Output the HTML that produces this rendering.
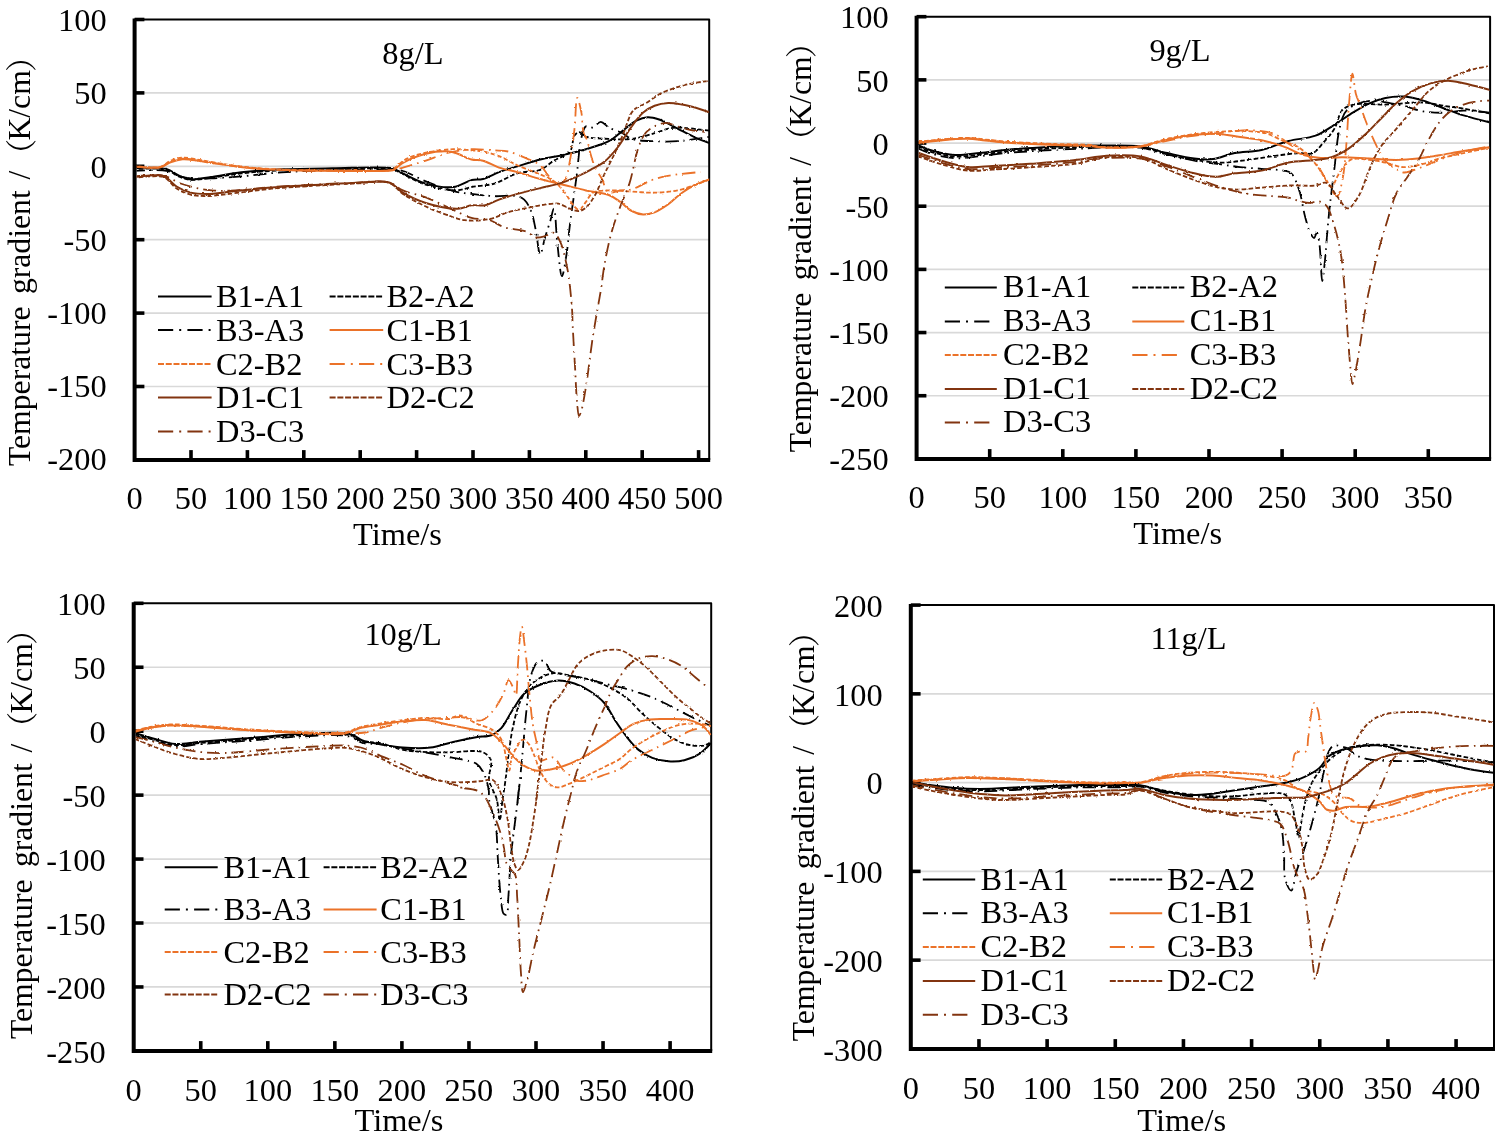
<!DOCTYPE html>
<html><head><meta charset="utf-8"><title>Temperature gradient</title>
<style>html,body{margin:0;padding:0;background:#fff}svg{display:block}text{font-family:"Liberation Serif","Noto Serif CJK SC",serif;fill:#000}</style>
</head><body>
<svg width="1500" height="1136" viewBox="0 0 1500 1136">
<rect width="1500" height="1136" fill="#fff"/>
<defs><clipPath id="ac"><rect x="136.6" y="19.5" width="572.6" height="440.4"/></clipPath><clipPath id="bc"><rect x="918.6" y="16.7" width="571.4999999999999" height="442.2"/></clipPath><clipPath id="cc"><rect x="135.7" y="603.3" width="575.5" height="447.60000000000014"/></clipPath><clipPath id="dc"><rect x="912.8" y="605.1" width="581.2" height="443.80000000000007"/></clipPath><filter id="rough" x="0" y="0" width="1500" height="1136" filterUnits="userSpaceOnUse"><feTurbulence type="fractalNoise" baseFrequency="0.35" numOctaves="2" seed="3" result="t"/><feDisplacementMap in="SourceGraphic" in2="t" scale="2.2" xChannelSelector="R" yChannelSelector="G"/></filter></defs>
<line x1="134.6" y1="92.90" x2="709.2" y2="92.90" stroke="#D9D9D9" stroke-width="1.7"/>
<line x1="134.6" y1="166.30" x2="709.2" y2="166.30" stroke="#D9D9D9" stroke-width="1.7"/>
<line x1="134.6" y1="239.70" x2="709.2" y2="239.70" stroke="#D9D9D9" stroke-width="1.7"/>
<line x1="134.6" y1="313.10" x2="709.2" y2="313.10" stroke="#D9D9D9" stroke-width="1.7"/>
<line x1="134.6" y1="386.50" x2="709.2" y2="386.50" stroke="#D9D9D9" stroke-width="1.7"/>
<path d="M134.6,19.5H709.2V459.9" fill="none" stroke="#000" stroke-width="2" stroke-linejoin="round"/>
<path d="M134.6,18.5V459.9H710.2" fill="none" stroke="#000" stroke-width="4" stroke-linejoin="miter"/>
<line x1="134.6" y1="19.50" x2="144.4" y2="19.50" stroke="#000" stroke-width="3.6"/>
<line x1="134.6" y1="92.90" x2="144.4" y2="92.90" stroke="#000" stroke-width="3.6"/>
<line x1="134.6" y1="166.30" x2="144.4" y2="166.30" stroke="#000" stroke-width="3.6"/>
<line x1="134.6" y1="239.70" x2="144.4" y2="239.70" stroke="#000" stroke-width="3.6"/>
<line x1="134.6" y1="313.10" x2="144.4" y2="313.10" stroke="#000" stroke-width="3.6"/>
<line x1="134.6" y1="386.50" x2="144.4" y2="386.50" stroke="#000" stroke-width="3.6"/>
<line x1="191.00" y1="459.9" x2="191.00" y2="450.09999999999997" stroke="#000" stroke-width="3.6"/>
<line x1="247.40" y1="459.9" x2="247.40" y2="450.09999999999997" stroke="#000" stroke-width="3.6"/>
<line x1="303.80" y1="459.9" x2="303.80" y2="450.09999999999997" stroke="#000" stroke-width="3.6"/>
<line x1="360.20" y1="459.9" x2="360.20" y2="450.09999999999997" stroke="#000" stroke-width="3.6"/>
<line x1="416.60" y1="459.9" x2="416.60" y2="450.09999999999997" stroke="#000" stroke-width="3.6"/>
<line x1="473.00" y1="459.9" x2="473.00" y2="450.09999999999997" stroke="#000" stroke-width="3.6"/>
<line x1="529.40" y1="459.9" x2="529.40" y2="450.09999999999997" stroke="#000" stroke-width="3.6"/>
<line x1="585.80" y1="459.9" x2="585.80" y2="450.09999999999997" stroke="#000" stroke-width="3.6"/>
<line x1="642.20" y1="459.9" x2="642.20" y2="450.09999999999997" stroke="#000" stroke-width="3.6"/>
<line x1="698.60" y1="459.9" x2="698.60" y2="450.09999999999997" stroke="#000" stroke-width="3.6"/>
<g clip-path="url(#ac)"><g filter="url(#rough)">
<path d="M132.0,168.3C132.0,168.3 158.1,166.7 166.4,168.9C171.7,170.3 174.5,173.6 178.6,175.4C182.6,177.1 186.1,179.0 190.7,179.4C196.6,180.0 203.6,178.0 211.0,177.0C220.1,175.8 230.5,173.6 241.3,172.3C253.8,170.9 267.6,170.0 281.8,169.3C297.7,168.6 314.8,168.5 332.4,168.3C351.7,168.1 384.1,166.1 393.2,168.3C395.9,169.0 395.9,169.8 398.3,171.0C403.8,173.7 416.4,180.9 425.8,183.6C434.7,186.1 445.1,188.0 453.2,187.0C460.1,186.2 466.1,181.4 471.5,180.1C475.7,179.2 478.9,180.0 483.0,179.0C488.0,177.7 493.4,174.2 499.0,172.1C504.8,170.0 510.9,168.4 517.3,166.4C524.5,164.2 532.5,161.5 540.2,159.5C547.8,157.7 555.5,156.7 563.1,155.0C570.7,153.2 578.4,151.5 585.9,149.2C593.6,146.9 602.4,144.7 608.8,141.2C614.3,138.3 618.0,134.4 622.6,130.9C627.1,127.5 631.7,122.9 636.3,120.6C640.1,118.7 643.9,117.4 647.7,117.2C651.5,117.0 655.0,118.1 659.2,119.5C664.7,121.4 671.4,125.6 677.5,128.6C683.6,131.7 689.9,135.2 695.8,137.8C700.9,140.1 710.7,143.5 710.7,143.5" fill="none" stroke="#000000" stroke-width="2.0" stroke-linejoin="round"/>
<path d="M132.0,169.3C132.0,169.3 158.1,167.5 166.4,169.7C171.7,171.1 174.4,174.7 178.6,176.4C182.5,178.0 186.1,179.4 190.7,179.8C196.6,180.4 203.6,178.7 211.0,177.8C220.1,176.7 230.5,174.6 241.3,173.4C253.8,172.0 267.6,171.0 281.8,170.3C297.7,169.6 314.8,169.5 332.4,169.3C351.7,169.1 384.1,167.3 393.2,169.3C395.9,169.9 395.9,170.6 398.3,171.7C403.8,174.3 416.2,181.6 425.8,184.7C435.3,187.8 447.1,190.5 455.5,190.4C461.7,190.4 465.7,188.1 471.5,187.0C478.5,185.7 486.9,185.8 494.4,183.6C502.2,181.3 509.5,175.6 517.3,173.3C524.8,171.1 533.8,172.3 540.2,169.8C545.6,167.7 549.1,163.7 553.9,160.7C559.0,157.5 566.5,155.9 569.9,151.5C573.2,147.4 572.3,138.7 574.5,135.5C575.8,133.6 577.4,132.1 579.1,132.1C581.1,132.0 582.8,135.5 585.9,136.7C591.2,138.5 601.2,138.6 608.8,138.9C616.5,139.3 624.1,139.9 631.7,138.9C639.4,138.0 648.0,135.2 654.6,133.2C659.8,131.7 664.2,129.6 668.3,128.6C671.6,127.9 673.5,127.5 677.5,127.5C685.1,127.4 710.7,130.9 710.7,130.9" fill="none" stroke="#000000" stroke-width="1.8" stroke-linejoin="round" stroke-dasharray="4.6 2.2"/>
<path d="M132.0,170.9C132.0,170.9 158.0,169.3 166.4,170.9C171.6,171.9 174.5,174.5 178.6,175.8C182.6,177.0 186.1,177.9 190.7,178.4C196.6,179.0 203.5,178.7 211.0,178.4C220.1,178.1 230.5,177.3 241.3,176.4C253.9,175.4 267.6,173.3 281.8,172.3C297.7,171.2 314.8,170.8 332.4,170.3C351.7,169.8 381.6,169.0 393.2,169.7C397.8,170.0 399.1,169.9 402.9,171.0C409.0,172.7 417.6,178.0 425.8,181.3C435.0,184.9 447.0,189.5 455.5,191.6C461.6,193.1 465.7,193.2 471.5,193.9C478.5,194.7 486.8,195.8 494.4,196.2C502.0,196.5 512.0,194.9 517.3,196.2C520.4,196.9 522.1,197.7 524.2,199.6C526.9,202.1 529.2,206.6 531.0,211.0C533.2,216.3 534.2,222.7 535.6,229.3C537.3,237.0 538.5,254.4 540.2,254.5C541.6,254.6 543.1,244.0 544.8,238.5C546.5,232.6 548.8,225.6 550.5,220.2C551.8,215.9 552.9,208.6 553.9,208.7C555.6,208.9 556.0,231.7 557.3,243.1C558.7,254.2 560.2,276.2 561.9,276.2C563.3,276.3 565.2,262.4 566.5,254.5C568.0,245.4 568.5,236.0 569.9,224.8C571.8,210.2 574.8,189.9 576.8,174.4C578.5,161.2 579.1,146.5 581.4,137.8C582.7,132.8 583.6,127.7 585.9,126.4C587.7,125.3 590.5,128.0 592.8,127.5C595.5,126.9 598.2,121.8 600.8,121.8C603.5,121.8 605.7,125.8 608.8,127.5C612.7,129.7 618.5,131.1 622.6,133.2C626.0,135.0 627.8,137.6 631.7,138.9C637.5,140.9 647.0,140.9 654.6,141.2C662.2,141.6 670.3,141.7 677.5,141.2C683.9,140.8 690.0,139.8 695.8,138.9C701.0,138.2 710.7,136.7 710.7,136.7" fill="none" stroke="#000000" stroke-width="1.8" stroke-linejoin="round" stroke-dasharray="13 5 1.6 5"/>
<path d="M132.0,166.3C132.0,166.3 153.4,168.8 160.4,167.3C164.7,166.3 166.9,163.6 170.5,162.2C174.3,160.8 178.1,159.5 182.6,159.2C188.1,158.8 194.6,160.4 200.9,161.2C207.4,162.1 213.7,163.2 221.1,164.3C230.2,165.5 240.6,167.3 251.5,168.3C264.0,169.4 277.1,169.9 291.9,170.3C310.1,170.9 334.7,170.9 352.7,170.9C367.0,170.9 385.9,171.2 391.1,170.5C392.5,170.3 392.7,170.4 393.7,169.8C395.9,168.8 399.0,165.2 402.9,163.0C408.6,159.7 418.0,155.7 425.8,153.8C433.3,152.0 442.8,151.1 448.6,151.5C452.4,151.8 454.5,152.7 457.8,153.8C462.0,155.2 467.1,158.4 471.5,159.5C475.4,160.5 478.9,159.6 483.0,160.7C488.0,162.0 493.4,165.7 499.0,167.6C504.8,169.5 510.9,170.4 517.3,172.1C524.5,174.1 532.5,176.9 540.2,179.0C547.8,181.1 555.4,182.8 563.1,184.7C570.7,186.6 578.3,188.7 585.9,190.4C593.6,192.1 602.7,192.6 608.8,195.0C613.5,196.8 616.5,199.3 620.3,201.9C624.2,204.6 627.7,208.9 631.7,211.0C635.4,212.9 639.3,214.3 643.2,214.5C646.9,214.6 650.7,213.6 654.6,212.2C659.1,210.5 663.9,207.3 668.3,204.2C673.0,200.9 677.3,196.0 682.1,192.7C686.5,189.6 691.0,187.0 695.8,184.7C700.6,182.4 710.7,179.0 710.7,179.0" fill="none" stroke="#EB7229" stroke-width="2.0" stroke-linejoin="round"/>
<path d="M132.0,165.7C132.0,165.7 153.5,168.6 160.4,166.9C164.8,165.8 166.8,162.4 170.5,160.8C174.2,159.2 178.1,157.8 182.6,157.6C188.1,157.3 194.6,159.2 200.9,160.2C207.4,161.2 213.7,162.5 221.1,163.6C230.2,165.0 240.6,166.7 251.5,167.7C264.0,168.9 277.1,169.4 291.9,169.9C310.1,170.5 334.7,170.5 352.7,170.5C367.0,170.5 385.9,171.5 391.1,170.1C392.6,169.7 392.6,169.4 393.7,168.7C396.5,166.9 402.3,161.0 407.5,158.4C412.9,155.6 419.0,154.2 425.8,152.7C433.9,150.9 445.0,149.5 453.2,149.2C459.9,149.0 466.1,150.0 471.5,150.4C475.8,150.7 478.9,150.7 483.0,151.5C487.9,152.5 493.6,154.0 499.0,156.1C505.0,158.4 510.8,162.3 517.3,165.3C524.4,168.5 533.6,171.5 540.2,174.4C545.4,176.8 550.0,178.5 553.9,181.3C557.5,183.9 560.0,186.8 563.1,190.4C566.9,194.9 571.3,203.2 574.5,206.5C576.2,208.2 577.5,210.1 579.1,209.9C581.2,209.6 583.7,204.7 585.9,201.9C588.3,199.0 589.5,194.7 592.8,192.7C596.7,190.4 603.0,190.7 608.8,190.4C615.8,190.1 624.1,191.2 631.7,191.6C639.3,192.0 647.0,192.9 654.6,192.7C662.2,192.5 670.3,191.9 677.5,190.4C684.0,189.1 690.0,186.7 695.8,184.7C701.0,182.9 710.7,179.0 710.7,179.0" fill="none" stroke="#EB7229" stroke-width="1.8" stroke-linejoin="round" stroke-dasharray="4.6 2.2"/>
<path d="M132.0,166.1C132.0,166.1 153.5,168.7 160.4,167.1C164.8,166.1 166.9,163.0 170.5,161.6C174.3,160.2 178.1,158.9 182.6,158.6C188.1,158.2 194.6,159.9 200.9,160.8C207.4,161.7 213.7,163.0 221.1,164.0C230.2,165.4 240.6,167.1 251.5,168.1C264.0,169.2 277.1,169.7 291.9,170.1C310.1,170.7 334.7,170.7 352.7,170.7C367.0,170.7 382.0,171.4 391.1,170.3C396.2,169.7 398.3,168.8 402.9,167.6C409.3,165.8 418.2,163.2 425.8,160.7C433.4,158.2 440.9,154.6 448.6,152.7C456.2,150.8 463.9,149.6 471.5,149.2C479.1,148.9 487.8,149.9 494.4,150.4C499.6,150.7 503.3,150.4 508.1,151.5C513.9,152.8 520.8,156.0 526.5,158.4C531.4,160.6 536.3,162.2 540.2,165.3C543.9,168.3 546.1,173.4 549.3,176.7C552.3,179.8 555.6,184.7 558.5,184.7C560.9,184.7 563.6,181.8 565.4,179.0C567.9,174.9 568.6,167.7 569.9,160.7C571.7,151.5 573.3,139.2 574.5,128.6C575.7,118.3 575.7,97.9 577.3,97.8C578.3,97.7 580.3,107.2 581.4,112.6C582.6,118.9 582.2,128.3 583.7,133.2C584.5,136.2 586.1,137.3 587.1,140.1C588.5,143.8 589.2,149.3 590.5,153.8C591.9,158.4 593.1,163.3 595.1,167.6C597.0,171.6 600.2,175.3 602.0,179.0C603.5,182.1 604.1,185.7 605.4,188.1C606.4,190.0 607.1,192.0 608.8,192.7C611.4,193.7 616.4,191.0 620.3,190.4C624.1,189.9 627.4,190.5 631.7,189.3C638.2,187.6 646.8,181.5 654.6,179.0C662.1,176.6 669.8,175.6 677.5,174.4C685.1,173.3 700.4,172.1 700.4,172.1" fill="none" stroke="#EB7229" stroke-width="1.8" stroke-linejoin="round" stroke-dasharray="13 5 1.6 5"/>
<path d="M132.0,177.4C132.0,177.4 144.5,175.5 150.2,175.4C155.3,175.3 160.1,174.7 164.4,176.4C168.9,178.2 172.1,183.8 176.6,186.5C180.9,189.2 185.7,191.3 190.7,192.6C195.8,193.9 201.0,194.0 206.9,194.0C214.2,194.0 222.1,192.5 231.2,191.6C243.0,190.4 258.2,188.6 271.7,187.5C285.2,186.5 298.7,185.8 312.2,185.1C325.7,184.4 339.5,183.5 352.7,183.1C365.1,182.7 380.2,179.6 389.1,182.5C395.2,184.4 397.5,189.6 402.9,192.7C409.4,196.5 417.3,200.4 425.8,203.0C435.4,206.0 449.4,209.0 457.8,208.7C463.4,208.6 466.9,205.9 471.5,205.3C476.1,204.7 480.8,206.2 485.3,205.3C489.9,204.4 494.0,201.4 499.0,199.6C504.6,197.5 510.8,195.7 517.3,193.9C524.5,191.9 532.6,190.1 540.2,188.1C547.8,186.2 556.5,184.6 563.1,182.4C568.3,180.7 572.3,178.8 576.8,176.7C581.4,174.6 586.0,172.3 590.5,169.8C595.1,167.3 599.9,165.3 604.3,161.8C609.1,157.9 613.6,152.5 618.0,147.0C622.8,140.8 627.2,132.4 631.7,126.4C635.6,121.2 639.0,116.2 643.2,112.6C646.7,109.6 650.5,107.4 654.6,105.8C658.8,104.1 663.7,103.2 668.3,103.0C672.9,102.8 677.2,103.7 682.1,104.6C687.8,105.7 695.2,107.7 700.4,109.2C704.3,110.3 710.7,112.6 710.7,112.6" fill="none" stroke="#823410" stroke-width="2.0" stroke-linejoin="round"/>
<path d="M132.0,178.4C132.0,178.4 144.5,176.5 150.2,176.4C155.3,176.3 160.2,175.6 164.4,177.4C169.0,179.4 172.1,185.7 176.6,188.5C180.9,191.3 185.7,193.4 190.7,194.6C195.8,195.9 201.0,196.1 206.9,196.0C214.2,196.0 222.1,194.6 231.2,193.6C243.0,192.3 258.2,190.0 271.7,188.7C285.2,187.5 298.7,186.8 312.2,185.9C325.7,185.1 339.5,184.2 352.7,183.7C365.1,183.2 380.2,179.9 389.1,182.9C395.3,185.0 397.5,190.3 402.9,193.9C409.4,198.2 418.0,202.8 425.8,206.5C433.3,210.0 441.6,213.2 448.6,215.6C454.4,217.6 458.7,219.5 464.7,220.2C472.1,221.0 482.2,220.6 489.8,219.0C496.5,217.7 501.8,214.1 508.1,212.2C514.7,210.2 522.3,208.9 528.7,207.6C534.4,206.4 539.6,205.3 544.8,204.6C549.5,204.0 554.2,203.0 558.5,203.7C562.6,204.4 566.3,207.5 569.9,208.7C573.1,209.8 576.3,211.3 579.1,211.0C581.6,210.8 583.7,209.5 585.9,207.6C589.1,204.9 592.3,199.9 595.1,195.0C598.5,189.1 601.1,181.0 604.3,174.4C607.2,168.1 610.4,162.4 613.4,156.1C616.5,149.5 619.6,142.6 622.6,135.5C625.7,128.1 628.7,117.2 631.7,112.6C633.3,110.3 634.4,109.4 636.3,108.1C638.7,106.3 642.2,105.4 645.4,103.5C649.6,101.1 654.5,96.8 659.2,94.3C663.6,91.9 668.1,90.3 672.9,88.6C678.0,86.8 683.1,85.3 688.9,84.0C695.6,82.6 710.7,80.6 710.7,80.6" fill="none" stroke="#823410" stroke-width="1.8" stroke-linejoin="round" stroke-dasharray="4.6 2.2"/>
<path d="M132.0,177.0C132.0,177.0 144.5,175.1 150.2,175.0C155.3,174.8 159.7,174.6 164.4,175.8C169.8,177.2 175.0,181.4 180.6,183.5C186.4,185.6 192.9,187.4 198.8,188.5C204.3,189.6 209.6,190.2 215.0,190.6C220.4,190.9 224.6,190.8 231.2,190.6C241.7,190.1 258.2,188.1 271.7,187.1C285.2,186.1 298.7,185.4 312.2,184.7C325.7,184.0 339.5,183.3 352.7,182.9C365.1,182.5 380.1,179.9 389.1,182.3C395.1,183.9 397.5,188.1 402.9,190.4C409.4,193.3 418.2,194.5 425.8,197.3C433.5,200.2 441.0,204.2 448.6,207.6C456.3,211.0 464.2,215.8 471.5,217.9C477.8,219.7 484.3,218.5 489.8,220.2C494.9,221.7 498.3,225.2 503.6,227.0C510.1,229.3 520.7,229.3 526.5,231.6C530.4,233.2 532.4,236.6 535.6,237.3C538.5,238.0 541.8,236.9 544.8,236.2C547.9,235.4 551.3,231.9 553.9,232.8C556.8,233.7 558.9,239.1 560.8,243.1C562.9,247.7 564.0,253.5 565.4,259.1C566.7,265.0 567.8,270.3 568.8,277.4C570.2,287.0 571.7,303.7 572.2,311.7C572.5,316.0 572.3,317.1 572.5,321.5C572.9,331.0 574.2,352.4 575.0,366.5C575.7,378.9 576.1,392.4 577.0,401.5C577.6,407.4 578.0,415.8 579.0,416.0C579.6,416.1 580.3,414.0 581.0,412.0C582.6,407.2 584.4,396.3 586.0,386.5C588.2,373.1 590.4,353.0 592.5,339.0C594.2,327.8 596.0,318.0 597.5,309.0C598.8,301.7 599.9,295.9 601.0,289.0C602.2,281.6 602.8,274.2 604.3,265.9C606.0,256.1 608.3,244.1 611.1,233.9C613.7,224.3 617.1,215.1 620.3,206.5C623.2,198.4 626.6,192.2 629.4,183.6C632.9,172.9 635.2,156.1 638.6,147.0C640.7,141.1 642.5,136.8 645.4,133.2C648.0,130.2 651.2,128.1 654.6,126.4C658.1,124.6 662.2,122.9 666.0,122.9C669.9,122.9 673.2,125.2 677.5,126.4C682.9,127.8 690.4,130.0 695.8,130.9C700.0,131.7 707.2,132.1 707.2,132.1" fill="none" stroke="#823410" stroke-width="1.8" stroke-linejoin="round" stroke-dasharray="13 5 1.6 5"/>
</g></g>
<text x="106.7" y="31.1" text-anchor="end" font-size="32.4">100</text>
<text x="106.7" y="104.3" text-anchor="end" font-size="32.4">50</text>
<text x="106.7" y="177.5" text-anchor="end" font-size="32.4">0</text>
<text x="106.7" y="250.6" text-anchor="end" font-size="32.4">-50</text>
<text x="106.7" y="323.8" text-anchor="end" font-size="32.4">-100</text>
<text x="106.7" y="397.0" text-anchor="end" font-size="32.4">-150</text>
<text x="106.7" y="470.2" text-anchor="end" font-size="32.4">-200</text>
<text x="134.6" y="509.0" text-anchor="middle" font-size="32.4">0</text>
<text x="191.0" y="509.0" text-anchor="middle" font-size="32.4">50</text>
<text x="247.4" y="509.0" text-anchor="middle" font-size="32.4">100</text>
<text x="303.8" y="509.0" text-anchor="middle" font-size="32.4">150</text>
<text x="360.2" y="509.0" text-anchor="middle" font-size="32.4">200</text>
<text x="416.6" y="509.0" text-anchor="middle" font-size="32.4">250</text>
<text x="473.0" y="509.0" text-anchor="middle" font-size="32.4">300</text>
<text x="529.4" y="509.0" text-anchor="middle" font-size="32.4">350</text>
<text x="585.8" y="509.0" text-anchor="middle" font-size="32.4">400</text>
<text x="642.2" y="509.0" text-anchor="middle" font-size="32.4">450</text>
<text x="698.6" y="509.0" text-anchor="middle" font-size="32.4">500</text>
<text x="397.5" y="545.0" text-anchor="middle" font-size="32.4">Time/s</text>
<text transform="translate(30.3,465.6) rotate(-90)" font-size="31.7"><tspan x="-0.5">Temperature</tspan><tspan x="171.5">gradient</tspan><tspan x="286">/</tspan><tspan x="295.2" dy="2.3">（</tspan><tspan x="325" dy="-2.3">K/cm</tspan><tspan x="393.5" dy="2.3">）</tspan></text>
<text x="443.5" y="63.7" text-anchor="end" font-size="32.4">8g/L</text>
<line x1="158" y1="296.4" x2="211.6" y2="296.4" stroke="#000000" stroke-width="2"/>
<text x="216.0" y="307.1" font-size="32.4">B1-A1</text>
<line x1="329.6" y1="296.4" x2="383.20000000000005" y2="296.4" stroke="#000000" stroke-width="2" stroke-dasharray="6 1.75"/>
<text x="386.5" y="307.1" font-size="32.4">B2-A2</text>
<line x1="158" y1="330.1" x2="211.6" y2="330.1" stroke="#000000" stroke-width="2" stroke-dasharray="15.2 6 2 6.2"/>
<text x="216.0" y="340.8" font-size="32.4">B3-A3</text>
<line x1="329.6" y1="330.1" x2="383.20000000000005" y2="330.1" stroke="#EB7229" stroke-width="2"/>
<text x="386.5" y="340.8" font-size="32.4">C1-B1</text>
<line x1="158" y1="363.9" x2="211.6" y2="363.9" stroke="#EB7229" stroke-width="2" stroke-dasharray="6 1.75"/>
<text x="216.0" y="374.6" font-size="32.4">C2-B2</text>
<line x1="329.6" y1="363.9" x2="383.20000000000005" y2="363.9" stroke="#EB7229" stroke-width="2" stroke-dasharray="15.2 6 2 6.2"/>
<text x="386.5" y="374.6" font-size="32.4">C3-B3</text>
<line x1="158" y1="397.6" x2="211.6" y2="397.6" stroke="#823410" stroke-width="2"/>
<text x="216.0" y="408.3" font-size="32.4">D1-C1</text>
<line x1="329.6" y1="397.6" x2="383.20000000000005" y2="397.6" stroke="#823410" stroke-width="2" stroke-dasharray="6 1.75"/>
<text x="386.5" y="408.3" font-size="32.4">D2-C2</text>
<line x1="158" y1="431.4" x2="211.6" y2="431.4" stroke="#823410" stroke-width="2" stroke-dasharray="15.2 6 2 6.2"/>
<text x="216.0" y="442.1" font-size="32.4">D3-C3</text>
<line x1="916.6" y1="79.87" x2="1490.1" y2="79.87" stroke="#D9D9D9" stroke-width="1.7"/>
<line x1="916.6" y1="143.04" x2="1490.1" y2="143.04" stroke="#D9D9D9" stroke-width="1.7"/>
<line x1="916.6" y1="206.21" x2="1490.1" y2="206.21" stroke="#D9D9D9" stroke-width="1.7"/>
<line x1="916.6" y1="269.39" x2="1490.1" y2="269.39" stroke="#D9D9D9" stroke-width="1.7"/>
<line x1="916.6" y1="332.56" x2="1490.1" y2="332.56" stroke="#D9D9D9" stroke-width="1.7"/>
<line x1="916.6" y1="395.73" x2="1490.1" y2="395.73" stroke="#D9D9D9" stroke-width="1.7"/>
<path d="M916.6,16.7H1490.1V458.9" fill="none" stroke="#000" stroke-width="2" stroke-linejoin="round"/>
<path d="M916.6,15.7V458.9H1491.1" fill="none" stroke="#000" stroke-width="4" stroke-linejoin="miter"/>
<line x1="916.6" y1="16.70" x2="926.4" y2="16.70" stroke="#000" stroke-width="3.6"/>
<line x1="916.6" y1="79.87" x2="926.4" y2="79.87" stroke="#000" stroke-width="3.6"/>
<line x1="916.6" y1="143.04" x2="926.4" y2="143.04" stroke="#000" stroke-width="3.6"/>
<line x1="916.6" y1="206.21" x2="926.4" y2="206.21" stroke="#000" stroke-width="3.6"/>
<line x1="916.6" y1="269.39" x2="926.4" y2="269.39" stroke="#000" stroke-width="3.6"/>
<line x1="916.6" y1="332.56" x2="926.4" y2="332.56" stroke="#000" stroke-width="3.6"/>
<line x1="916.6" y1="395.73" x2="926.4" y2="395.73" stroke="#000" stroke-width="3.6"/>
<line x1="989.70" y1="458.9" x2="989.70" y2="449.09999999999997" stroke="#000" stroke-width="3.6"/>
<line x1="1062.80" y1="458.9" x2="1062.80" y2="449.09999999999997" stroke="#000" stroke-width="3.6"/>
<line x1="1135.90" y1="458.9" x2="1135.90" y2="449.09999999999997" stroke="#000" stroke-width="3.6"/>
<line x1="1209.00" y1="458.9" x2="1209.00" y2="449.09999999999997" stroke="#000" stroke-width="3.6"/>
<line x1="1282.10" y1="458.9" x2="1282.10" y2="449.09999999999997" stroke="#000" stroke-width="3.6"/>
<line x1="1355.20" y1="458.9" x2="1355.20" y2="449.09999999999997" stroke="#000" stroke-width="3.6"/>
<line x1="1428.30" y1="458.9" x2="1428.30" y2="449.09999999999997" stroke="#000" stroke-width="3.6"/>
<g clip-path="url(#bc)"><g filter="url(#rough)">
<path d="M917.5,145.0C917.5,145.0 925.0,148.5 930.0,150.0C936.8,152.0 946.6,154.5 955.0,155.0C963.3,155.5 971.7,153.8 980.0,153.0C988.3,152.2 996.0,150.9 1005.0,150.0C1015.7,149.0 1027.9,148.2 1040.0,147.5C1052.9,146.7 1069.0,145.8 1080.0,145.5C1087.8,145.3 1092.2,145.5 1100.0,145.6C1111.1,145.7 1128.4,144.8 1140.4,146.4C1150.4,147.7 1158.3,151.1 1167.3,153.1C1176.3,155.1 1186.1,157.6 1194.3,158.5C1201.1,159.3 1206.7,159.8 1213.1,159.1C1220.1,158.2 1227.0,154.6 1234.7,153.1C1243.1,151.5 1252.7,151.9 1261.6,149.9C1270.7,147.9 1279.5,143.4 1288.6,141.0C1297.5,138.7 1307.5,138.6 1315.5,135.6C1322.6,133.0 1328.4,128.5 1334.3,124.8C1340.0,121.4 1344.8,117.6 1350.5,114.1C1356.5,110.4 1363.2,106.1 1369.4,103.3C1374.8,100.9 1379.9,99.0 1385.5,97.9C1391.5,96.7 1398.1,96.1 1404.4,96.6C1410.7,97.0 1416.8,98.7 1423.2,100.6C1430.2,102.7 1437.8,106.1 1444.8,108.7C1451.3,111.1 1456.8,113.3 1463.6,115.4C1471.5,117.8 1489.2,122.2 1489.2,122.2" fill="none" stroke="#000000" stroke-width="2.0" stroke-linejoin="round"/>
<path d="M917.5,146.6C917.5,146.6 925.0,150.1 930.0,151.6C936.8,153.6 946.6,156.1 955.0,156.6C963.3,157.1 971.7,155.4 980.0,154.6C988.3,153.8 996.0,152.5 1005.0,151.6C1015.7,150.6 1027.9,149.8 1040.0,149.1C1052.9,148.3 1069.0,147.6 1080.0,147.1C1087.8,146.8 1092.2,146.5 1100.0,146.4C1111.1,146.3 1128.4,145.5 1140.4,147.2C1150.4,148.6 1158.3,152.4 1167.3,154.5C1176.3,156.6 1185.3,158.5 1194.3,159.9C1203.2,161.2 1212.2,162.6 1221.2,162.6C1230.2,162.6 1239.2,161.0 1248.1,159.9C1257.1,158.7 1266.3,157.0 1275.1,155.8C1283.4,154.7 1292.4,153.5 1299.3,153.1C1304.5,152.8 1308.8,154.8 1312.8,153.1C1317.0,151.4 1320.1,146.3 1323.6,142.4C1327.3,138.2 1331.3,134.0 1334.3,128.9C1337.7,123.3 1338.6,114.1 1342.4,110.0C1345.4,106.9 1349.1,105.7 1353.2,104.6C1357.9,103.4 1364.0,104.1 1369.4,104.1C1374.7,104.1 1379.9,104.8 1385.5,104.6C1391.6,104.5 1398.1,103.7 1404.4,103.3C1410.7,102.9 1416.8,102.1 1423.2,102.5C1430.2,102.9 1437.8,104.9 1444.8,106.0C1451.3,107.0 1456.9,107.6 1463.6,108.7C1471.5,110.0 1489.2,113.3 1489.2,113.3" fill="none" stroke="#000000" stroke-width="1.8" stroke-linejoin="round" stroke-dasharray="4.6 2.2"/>
<path d="M917.5,148.2C917.5,148.2 925.0,151.7 930.0,153.2C936.8,155.2 946.6,157.7 955.0,158.2C963.3,158.7 971.7,157.0 980.0,156.2C988.3,155.4 996.0,154.1 1005.0,153.2C1015.7,152.2 1027.9,151.4 1040.0,150.7C1052.9,149.9 1069.0,149.2 1080.0,148.7C1087.8,148.3 1092.2,147.9 1100.0,147.7C1111.1,147.5 1128.4,146.3 1140.4,147.7C1150.4,149.0 1158.4,152.3 1167.3,154.5C1176.3,156.6 1185.3,159.0 1194.3,160.7C1203.2,162.3 1213.0,163.3 1221.2,164.4C1228.1,165.4 1233.6,166.4 1240.1,167.1C1247.0,167.9 1254.4,168.2 1261.6,168.8C1268.8,169.3 1277.8,169.5 1283.2,170.6C1286.6,171.3 1288.9,171.2 1291.2,173.3C1294.8,176.5 1297.2,184.4 1299.3,190.8C1301.8,198.1 1302.8,207.7 1304.7,215.1C1306.4,221.4 1308.0,228.5 1310.1,232.6C1311.4,235.0 1313.0,238.1 1314.1,238.0C1315.2,237.9 1316.0,232.5 1316.8,232.6C1318.0,232.7 1318.8,239.6 1319.5,244.7C1320.8,253.6 1321.2,281.0 1322.2,281.1C1323.0,281.1 1324.1,268.4 1324.9,260.9C1325.9,251.4 1326.7,238.8 1327.6,228.6C1328.5,219.2 1329.2,211.0 1330.3,201.6C1331.5,191.3 1333.0,180.3 1334.3,169.3C1335.7,157.9 1336.7,143.7 1338.4,134.3C1339.6,127.8 1340.8,122.4 1342.4,118.1C1343.6,115.0 1344.3,112.8 1346.5,110.6C1349.2,107.7 1354.1,105.0 1358.6,103.3C1363.4,101.5 1369.4,100.6 1374.7,100.6C1380.1,100.6 1385.8,102.4 1390.9,103.3C1395.6,104.2 1399.5,104.8 1404.4,106.0C1410.2,107.4 1416.7,110.3 1423.2,111.4C1430.1,112.6 1437.8,112.9 1444.8,112.7C1451.3,112.6 1456.9,110.7 1463.6,110.6C1471.5,110.5 1489.2,112.7 1489.2,112.7" fill="none" stroke="#000000" stroke-width="1.8" stroke-linejoin="round" stroke-dasharray="13 5 1.6 5"/>
<path d="M917.5,143.0C917.5,143.0 932.1,141.2 940.0,140.5C948.7,139.7 959.4,138.6 967.5,138.8C974.0,138.9 979.0,139.9 985.0,140.5C991.4,141.1 996.8,141.9 1005.0,142.5C1017.9,143.5 1039.8,144.4 1055.0,145.0C1067.7,145.5 1081.9,145.4 1090.0,146.0C1094.4,146.3 1095.5,147.0 1100.0,147.2C1108.9,147.7 1129.1,147.9 1140.4,146.4C1148.8,145.3 1154.3,142.7 1162.0,141.0C1170.4,139.1 1179.9,136.8 1188.9,135.6C1197.8,134.4 1207.1,133.5 1215.8,133.7C1224.1,134.0 1232.2,135.9 1240.1,137.0C1247.5,138.0 1254.5,138.6 1261.6,140.2C1268.9,141.8 1276.1,143.9 1283.2,146.4C1290.4,148.9 1297.9,153.4 1304.7,155.3C1310.4,156.9 1315.1,157.6 1320.9,158.0C1327.5,158.4 1334.8,157.1 1342.4,157.2C1350.9,157.2 1360.4,158.1 1369.4,158.5C1378.3,159.0 1387.8,159.9 1396.3,159.9C1403.9,159.8 1410.7,159.3 1417.8,158.5C1425.0,157.8 1432.0,156.5 1439.4,155.3C1447.2,154.0 1455.4,152.3 1463.6,151.0C1472.0,149.6 1489.2,147.2 1489.2,147.2" fill="none" stroke="#EB7229" stroke-width="2.0" stroke-linejoin="round"/>
<path d="M917.5,142.0C917.5,142.0 932.1,140.2 940.0,139.5C948.7,138.7 959.4,137.6 967.5,137.8C974.0,137.9 979.0,138.9 985.0,139.5C991.4,140.1 996.8,140.9 1005.0,141.5C1017.9,142.5 1039.8,143.4 1055.0,144.0C1067.7,144.5 1081.9,144.1 1090.0,145.0C1094.4,145.5 1095.5,146.6 1100.0,146.9C1108.9,147.7 1129.1,147.8 1140.4,146.1C1148.8,144.9 1154.3,142.0 1162.0,140.2C1170.4,138.2 1179.5,136.2 1188.9,134.8C1199.1,133.3 1211.2,132.2 1221.2,131.6C1229.9,131.1 1237.6,130.6 1245.5,131.0C1252.9,131.4 1260.5,131.9 1267.0,133.7C1272.9,135.4 1277.8,138.7 1283.2,141.0C1288.5,143.3 1294.3,144.3 1299.3,147.7C1305.1,151.6 1310.9,158.3 1315.5,163.9C1319.7,169.1 1323.2,175.9 1326.3,180.1C1328.3,182.8 1329.9,187.0 1331.6,186.8C1333.9,186.6 1335.6,178.8 1338.4,174.7C1341.7,169.8 1345.3,162.3 1350.5,159.9C1355.7,157.4 1363.3,159.4 1369.4,159.9C1375.0,160.3 1380.4,161.4 1385.5,162.6C1390.3,163.7 1395.5,165.9 1399.0,166.6C1401.2,167.0 1402.0,167.2 1404.4,167.1C1408.8,167.0 1417.2,165.4 1423.2,163.9C1428.9,162.5 1433.4,160.2 1439.4,158.5C1446.6,156.5 1455.4,154.9 1463.6,153.1C1472.0,151.3 1489.2,147.7 1489.2,147.7" fill="none" stroke="#EB7229" stroke-width="1.8" stroke-linejoin="round" stroke-dasharray="4.6 2.2"/>
<path d="M917.5,142.5C917.5,142.5 932.1,140.7 940.0,140.0C948.7,139.2 959.4,138.1 967.5,138.2C974.0,138.4 979.0,139.4 985.0,140.0C991.4,140.6 996.8,141.4 1005.0,142.0C1017.9,143.0 1039.8,143.9 1055.0,144.5C1067.7,145.0 1081.9,144.7 1090.0,145.5C1094.4,145.9 1095.5,146.9 1100.0,147.2C1108.9,147.9 1129.1,148.0 1140.4,146.7C1148.8,145.7 1154.4,143.4 1162.0,141.8C1170.4,140.0 1179.5,137.9 1188.9,136.4C1199.1,134.9 1210.7,134.0 1221.2,132.9C1231.3,131.9 1241.5,129.9 1250.8,130.2C1259.3,130.6 1268.4,131.6 1275.1,134.3C1280.5,136.5 1283.8,140.7 1288.6,143.7C1293.6,147.0 1299.8,149.3 1304.7,153.1C1309.7,157.0 1314.2,161.4 1318.2,166.6C1322.4,172.1 1325.5,180.1 1329.0,185.5C1331.7,189.6 1334.9,196.6 1337.0,196.2C1339.5,195.8 1341.0,186.7 1342.4,180.1C1344.6,170.2 1345.4,155.2 1346.5,142.4C1347.6,129.1 1348.0,114.2 1349.2,102.0C1350.1,91.7 1351.2,73.7 1352.4,73.7C1353.4,73.6 1354.4,88.2 1355.9,93.9C1357.0,98.1 1358.4,100.5 1359.9,104.6C1361.9,110.1 1364.0,116.9 1366.7,123.5C1369.7,131.1 1373.9,140.9 1377.4,147.7C1380.2,153.0 1382.0,157.4 1385.5,161.2C1389.1,165.1 1395.4,168.8 1399.0,170.6C1401.1,171.7 1402.0,172.5 1404.4,172.5C1408.7,172.6 1417.2,168.8 1423.2,166.6C1428.9,164.5 1433.4,162.1 1439.4,159.9C1446.6,157.2 1455.4,154.0 1463.6,151.8C1472.0,149.5 1489.2,146.4 1489.2,146.4" fill="none" stroke="#EB7229" stroke-width="1.8" stroke-linejoin="round" stroke-dasharray="13 5 1.6 5"/>
<path d="M917.5,152.5C917.5,152.5 934.1,158.6 942.5,161.0C950.8,163.4 959.1,166.2 967.5,167.0C975.8,167.8 983.3,166.5 992.5,166.0C1003.7,165.4 1016.6,164.7 1030.0,163.8C1045.5,162.6 1067.1,161.1 1080.0,159.5C1088.2,158.5 1092.1,157.0 1100.0,156.4C1111.1,155.5 1128.4,154.4 1140.4,156.4C1150.4,158.0 1158.3,162.4 1167.3,165.3C1176.3,168.1 1185.7,171.4 1194.3,173.3C1201.8,175.1 1208.9,176.9 1215.8,176.8C1222.3,176.8 1227.8,174.3 1234.7,173.3C1242.8,172.2 1252.7,172.4 1261.6,170.6C1270.7,168.8 1279.5,164.4 1288.6,162.6C1297.4,160.8 1307.7,160.9 1315.5,159.9C1321.6,159.1 1326.4,158.9 1331.6,157.2C1337.2,155.4 1342.6,152.5 1347.8,149.1C1353.4,145.4 1358.7,140.4 1364.0,135.6C1369.5,130.6 1374.7,124.8 1380.1,119.5C1385.5,114.1 1390.7,108.1 1396.3,103.3C1401.5,98.8 1406.6,94.5 1412.5,91.2C1418.3,87.8 1424.9,84.8 1431.3,83.1C1437.5,81.5 1443.9,80.7 1450.2,80.9C1456.5,81.2 1462.7,83.0 1469.0,84.4C1475.7,85.9 1489.2,89.8 1489.2,89.8" fill="none" stroke="#823410" stroke-width="2.0" stroke-linejoin="round"/>
<path d="M917.5,156.1C917.5,156.1 934.1,162.2 942.5,164.6C950.8,167.0 959.1,169.8 967.5,170.6C975.8,171.4 983.3,170.1 992.5,169.6C1003.7,169.0 1016.6,168.3 1030.0,167.3C1045.5,166.2 1067.2,165.3 1080.0,163.1C1088.2,161.7 1092.1,159.0 1100.0,158.0C1111.1,156.6 1128.5,155.6 1140.4,158.0C1150.5,160.0 1158.3,165.6 1167.3,169.3C1176.3,173.0 1185.7,177.0 1194.3,180.1C1201.8,182.7 1208.8,185.2 1215.8,186.8C1222.3,188.3 1227.8,189.2 1234.7,189.5C1242.8,189.8 1252.6,188.3 1261.6,187.6C1270.6,186.9 1279.6,185.8 1288.6,185.5C1297.5,185.1 1308.6,186.3 1315.5,185.5C1319.9,184.9 1323.0,181.7 1326.3,182.8C1330.3,184.1 1333.4,191.9 1337.0,196.2C1340.6,200.4 1344.2,208.4 1347.8,208.4C1351.4,208.4 1355.4,201.4 1358.6,196.2C1362.9,189.3 1365.6,177.7 1369.4,169.3C1372.8,161.6 1375.7,154.4 1380.1,147.7C1384.6,141.0 1390.9,135.2 1396.3,128.9C1401.7,122.6 1407.1,116.3 1412.5,110.0C1417.8,103.7 1422.9,96.3 1428.6,91.2C1433.7,86.7 1439.0,83.5 1444.8,80.4C1450.7,77.2 1457.8,74.4 1463.6,72.3C1468.4,70.6 1472.8,69.3 1477.1,68.3C1480.9,67.4 1487.9,66.4 1487.9,66.4" fill="none" stroke="#823410" stroke-width="1.8" stroke-linejoin="round" stroke-dasharray="4.6 2.2"/>
<path d="M917.5,154.5C917.5,154.5 934.1,160.6 942.5,163.0C950.8,165.4 959.1,168.2 967.5,169.0C975.8,169.8 983.3,168.5 992.5,168.0C1003.7,167.4 1016.6,166.7 1030.0,165.8C1045.5,164.6 1067.1,163.0 1080.0,161.5C1088.2,160.5 1092.1,159.1 1100.0,158.5C1111.1,157.7 1128.4,156.8 1140.4,158.5C1150.4,160.0 1158.4,163.5 1167.3,166.6C1176.4,169.8 1185.8,174.1 1194.3,177.4C1201.8,180.3 1208.0,182.9 1215.8,185.5C1224.9,188.4 1235.7,191.7 1245.5,193.5C1254.6,195.2 1264.5,195.5 1272.4,196.2C1278.5,196.8 1283.8,196.6 1288.6,197.6C1292.6,198.4 1295.7,200.2 1299.3,201.1C1302.9,202.0 1306.8,203.1 1310.1,203.0C1313.0,202.9 1315.6,200.7 1318.2,201.1C1321.0,201.5 1323.9,203.0 1326.3,205.7C1329.8,209.7 1332.0,218.4 1334.3,225.9C1337.1,234.7 1339.3,244.8 1341.1,255.5C1343.1,267.9 1344.0,282.4 1345.1,295.9C1346.2,309.4 1346.9,323.6 1347.8,336.3C1348.7,347.7 1349.6,359.8 1350.5,368.6C1351.1,374.7 1351.5,383.9 1352.4,384.0C1353.0,384.0 1353.8,380.0 1354.5,376.7C1356.1,370.0 1358.2,356.7 1359.9,346.0C1361.8,334.3 1363.2,321.2 1365.3,309.4C1367.3,298.2 1369.6,287.8 1372.1,277.0C1374.5,266.2 1377.3,255.0 1380.1,244.7C1382.7,235.3 1385.5,226.5 1388.2,217.8C1390.8,209.5 1392.8,200.6 1396.3,193.5C1399.3,187.4 1403.5,182.8 1407.1,177.4C1410.7,172.0 1414.4,167.1 1417.8,161.2C1421.7,154.7 1424.9,146.4 1428.6,139.7C1432.1,133.4 1435.5,127.1 1439.4,122.2C1442.8,117.9 1446.1,114.3 1450.2,111.4C1454.2,108.5 1459.0,106.3 1463.6,104.6C1468.0,103.0 1472.7,102.1 1477.1,101.4C1481.2,100.8 1489.2,100.6 1489.2,100.6" fill="none" stroke="#823410" stroke-width="1.8" stroke-linejoin="round" stroke-dasharray="13 5 1.6 5"/>
</g></g>
<text x="888.7" y="28.4" text-anchor="end" font-size="32.4">100</text>
<text x="888.7" y="91.5" text-anchor="end" font-size="32.4">50</text>
<text x="888.7" y="154.7" text-anchor="end" font-size="32.4">0</text>
<text x="888.7" y="217.8" text-anchor="end" font-size="32.4">-50</text>
<text x="888.7" y="280.9" text-anchor="end" font-size="32.4">-100</text>
<text x="888.7" y="344.0" text-anchor="end" font-size="32.4">-150</text>
<text x="888.7" y="407.2" text-anchor="end" font-size="32.4">-200</text>
<text x="888.7" y="470.3" text-anchor="end" font-size="32.4">-250</text>
<text x="916.6" y="508.2" text-anchor="middle" font-size="32.4">0</text>
<text x="989.7" y="508.2" text-anchor="middle" font-size="32.4">50</text>
<text x="1062.8" y="508.2" text-anchor="middle" font-size="32.4">100</text>
<text x="1135.9" y="508.2" text-anchor="middle" font-size="32.4">150</text>
<text x="1209.0" y="508.2" text-anchor="middle" font-size="32.4">200</text>
<text x="1282.1" y="508.2" text-anchor="middle" font-size="32.4">250</text>
<text x="1355.2" y="508.2" text-anchor="middle" font-size="32.4">300</text>
<text x="1428.3" y="508.2" text-anchor="middle" font-size="32.4">350</text>
<text x="1177.7" y="544.2" text-anchor="middle" font-size="32.4">Time/s</text>
<text transform="translate(810.9,451.8) rotate(-90)" font-size="31.7"><tspan x="-0.5">Temperature</tspan><tspan x="171.5">gradient</tspan><tspan x="286">/</tspan><tspan x="295.2" dy="2.3">（</tspan><tspan x="325" dy="-2.3">K/cm</tspan><tspan x="393.5" dy="2.3">）</tspan></text>
<text x="1210.6" y="60.5" text-anchor="end" font-size="32.4">9g/L</text>
<line x1="944.8" y1="287.6" x2="996.8" y2="287.6" stroke="#000000" stroke-width="2"/>
<text x="1003.0" y="297.3" font-size="32.4">B1-A1</text>
<line x1="1132.3" y1="287.6" x2="1184.3" y2="287.6" stroke="#000000" stroke-width="2" stroke-dasharray="6 1.75"/>
<text x="1189.7" y="297.3" font-size="32.4">B2-A2</text>
<line x1="944.8" y1="321.4" x2="994.8" y2="321.4" stroke="#000000" stroke-width="2" stroke-dasharray="15.2 6 2 6.2"/>
<text x="1003.0" y="331.1" font-size="32.4">B3-A3</text>
<line x1="1132.3" y1="321.4" x2="1184.3" y2="321.4" stroke="#EB7229" stroke-width="2"/>
<text x="1189.7" y="331.1" font-size="32.4">C1-B1</text>
<line x1="944.8" y1="355.1" x2="996.8" y2="355.1" stroke="#EB7229" stroke-width="2" stroke-dasharray="6 1.75"/>
<text x="1003.0" y="364.8" font-size="32.4">C2-B2</text>
<line x1="1132.3" y1="355.1" x2="1182.3" y2="355.1" stroke="#EB7229" stroke-width="2" stroke-dasharray="15.2 6 2 6.2"/>
<text x="1189.7" y="364.8" font-size="32.4">C3-B3</text>
<line x1="944.8" y1="388.9" x2="996.8" y2="388.9" stroke="#823410" stroke-width="2"/>
<text x="1003.0" y="398.6" font-size="32.4">D1-C1</text>
<line x1="1132.3" y1="388.9" x2="1184.3" y2="388.9" stroke="#823410" stroke-width="2" stroke-dasharray="6 1.75"/>
<text x="1189.7" y="398.6" font-size="32.4">D2-C2</text>
<line x1="944.8" y1="422.6" x2="994.8" y2="422.6" stroke="#823410" stroke-width="2" stroke-dasharray="15.2 6 2 6.2"/>
<text x="1003.0" y="432.3" font-size="32.4">D3-C3</text>
<line x1="133.7" y1="667.24" x2="711.2" y2="667.24" stroke="#D9D9D9" stroke-width="1.7"/>
<line x1="133.7" y1="731.19" x2="711.2" y2="731.19" stroke="#D9D9D9" stroke-width="1.7"/>
<line x1="133.7" y1="795.13" x2="711.2" y2="795.13" stroke="#D9D9D9" stroke-width="1.7"/>
<line x1="133.7" y1="859.07" x2="711.2" y2="859.07" stroke="#D9D9D9" stroke-width="1.7"/>
<line x1="133.7" y1="923.01" x2="711.2" y2="923.01" stroke="#D9D9D9" stroke-width="1.7"/>
<line x1="133.7" y1="986.96" x2="711.2" y2="986.96" stroke="#D9D9D9" stroke-width="1.7"/>
<path d="M133.7,603.3H711.2V1050.9" fill="none" stroke="#000" stroke-width="2" stroke-linejoin="round"/>
<path d="M133.7,602.3V1050.9H712.2" fill="none" stroke="#000" stroke-width="4" stroke-linejoin="miter"/>
<line x1="133.7" y1="603.30" x2="143.5" y2="603.30" stroke="#000" stroke-width="3.6"/>
<line x1="133.7" y1="667.24" x2="143.5" y2="667.24" stroke="#000" stroke-width="3.6"/>
<line x1="133.7" y1="731.19" x2="143.5" y2="731.19" stroke="#000" stroke-width="3.6"/>
<line x1="133.7" y1="795.13" x2="143.5" y2="795.13" stroke="#000" stroke-width="3.6"/>
<line x1="133.7" y1="859.07" x2="143.5" y2="859.07" stroke="#000" stroke-width="3.6"/>
<line x1="133.7" y1="923.01" x2="143.5" y2="923.01" stroke="#000" stroke-width="3.6"/>
<line x1="133.7" y1="986.96" x2="143.5" y2="986.96" stroke="#000" stroke-width="3.6"/>
<line x1="200.75" y1="1050.9" x2="200.75" y2="1041.1000000000001" stroke="#000" stroke-width="3.6"/>
<line x1="267.80" y1="1050.9" x2="267.80" y2="1041.1000000000001" stroke="#000" stroke-width="3.6"/>
<line x1="334.85" y1="1050.9" x2="334.85" y2="1041.1000000000001" stroke="#000" stroke-width="3.6"/>
<line x1="401.90" y1="1050.9" x2="401.90" y2="1041.1000000000001" stroke="#000" stroke-width="3.6"/>
<line x1="468.95" y1="1050.9" x2="468.95" y2="1041.1000000000001" stroke="#000" stroke-width="3.6"/>
<line x1="536.00" y1="1050.9" x2="536.00" y2="1041.1000000000001" stroke="#000" stroke-width="3.6"/>
<line x1="603.05" y1="1050.9" x2="603.05" y2="1041.1000000000001" stroke="#000" stroke-width="3.6"/>
<line x1="670.10" y1="1050.9" x2="670.10" y2="1041.1000000000001" stroke="#000" stroke-width="3.6"/>
<g clip-path="url(#cc)"><g filter="url(#rough)">
<path d="M135.0,733.0C135.0,733.0 148.3,737.2 155.0,739.0C161.6,740.8 167.9,743.4 175.0,744.0C182.8,744.6 190.2,742.6 200.0,741.8C213.8,740.6 233.3,739.3 250.0,738.0C266.7,736.7 283.3,734.7 300.0,734.0C316.7,733.3 339.1,731.3 350.0,734.0C355.8,735.4 357.9,738.8 362.5,740.5C367.7,742.4 373.8,743.0 380.0,744.2C387.1,745.4 394.9,747.0 402.9,747.6C411.6,748.2 421.7,748.7 430.3,747.6C438.4,746.6 445.6,743.6 453.2,741.9C460.8,740.2 469.1,738.5 476.1,737.3C481.9,736.3 487.7,736.8 492.1,735.0C495.8,733.5 498.3,731.3 501.3,728.1C505.3,723.8 508.8,715.7 512.7,709.8C516.5,704.3 519.5,698.0 524.2,693.8C528.7,689.7 534.5,686.9 540.2,684.7C545.9,682.4 552.6,680.7 558.5,680.5C564.0,680.4 569.3,681.8 574.5,683.5C580.0,685.4 585.6,688.3 590.5,691.5C595.5,694.8 600.2,698.3 604.3,703.0C608.7,708.1 611.8,715.4 615.7,721.3C619.4,726.9 623.2,732.4 627.1,737.3C630.8,741.9 634.3,746.4 638.6,749.9C642.7,753.2 647.4,756.0 652.3,757.9C657.3,759.8 663.0,761.0 668.3,761.3C673.6,761.7 679.1,761.5 684.3,760.2C689.8,758.9 695.9,756.4 700.4,753.3C704.5,750.5 710.7,743.0 710.7,743.0" fill="none" stroke="#000000" stroke-width="2.0" stroke-linejoin="round"/>
<path d="M135.0,734.2C135.0,734.2 148.3,738.4 155.0,740.2C161.6,742.0 167.9,744.6 175.0,745.2C182.8,745.8 190.2,743.8 200.0,743.0C213.8,741.8 233.3,740.5 250.0,739.2C266.7,737.9 283.3,735.9 300.0,735.2C316.7,734.5 339.1,732.5 350.0,735.2C355.8,736.6 357.8,740.4 362.5,741.7C367.7,743.2 373.8,741.9 380.0,743.0C387.2,744.4 394.8,748.4 402.9,749.9C411.5,751.5 421.6,751.8 430.3,752.2C438.3,752.5 446.0,752.4 453.2,752.2C459.7,752.0 466.1,750.9 471.5,751.0C475.8,751.1 479.7,750.6 483.0,752.2C486.2,753.7 489.7,756.5 491.0,760.2C492.7,765.0 488.1,773.5 489.1,780.0C490.0,786.6 495.0,792.6 496.8,799.4C498.6,806.2 498.7,820.7 499.7,820.7C500.7,820.7 501.6,806.3 502.6,799.4C503.6,792.8 504.6,786.7 505.5,780.0C506.5,772.9 507.1,765.8 508.1,757.9C509.4,748.7 510.7,737.6 512.7,728.1C514.6,719.4 516.6,710.3 519.6,703.0C522.1,696.9 525.0,691.3 528.7,687.0C532.0,683.1 536.0,680.1 540.2,677.8C544.4,675.5 549.1,673.7 553.9,673.2C559.0,672.8 564.3,674.5 569.9,675.5C576.4,676.7 583.9,678.1 590.5,680.1C596.9,682.0 602.9,684.0 608.8,687.0C615.1,690.0 621.5,693.9 627.1,698.4C632.9,703.0 637.7,709.4 643.2,714.4C648.4,719.3 653.7,723.9 659.2,728.1C664.4,732.3 669.6,736.7 675.2,739.6C680.4,742.3 686.0,744.4 691.2,745.3C695.9,746.1 701.5,746.3 704.9,745.3C707.4,744.6 710.7,741.9 710.7,741.9" fill="none" stroke="#000000" stroke-width="1.8" stroke-linejoin="round" stroke-dasharray="4.6 2.2"/>
<path d="M135.0,735.5C135.0,735.5 148.3,739.7 155.0,741.5C161.6,743.3 167.9,745.9 175.0,746.5C182.8,747.1 190.2,745.1 200.0,744.2C213.8,743.1 233.3,741.8 250.0,740.5C266.7,739.2 283.3,737.2 300.0,736.5C316.7,735.8 339.1,733.8 350.0,736.5C355.8,737.9 357.8,741.7 362.5,743.0C367.7,744.5 373.8,743.3 380.0,744.2C387.1,745.1 394.9,747.3 402.9,748.7C411.6,750.3 421.6,751.7 430.3,753.3C438.3,754.8 445.6,756.2 453.2,757.9C460.9,759.6 470.8,760.2 476.1,763.6C480.1,766.2 482.1,769.9 484.1,773.9C486.4,778.5 487.9,785.3 488.7,789.9C489.3,793.5 488.5,795.4 489.1,799.4C490.0,806.1 494.4,817.1 495.8,826.5C497.4,836.4 497.0,846.6 497.8,857.5C498.6,869.7 499.4,885.9 500.7,896.2C501.5,903.2 501.7,911.4 503.6,913.7C504.4,914.6 505.7,915.1 506.5,914.6C508.4,913.4 507.8,903.5 508.4,896.2C509.3,885.7 509.7,869.5 510.8,857.5C511.7,847.1 513.1,837.6 514.2,828.4C515.2,820.2 516.3,812.6 517.1,805.2C517.9,798.4 519.0,785.8 519.1,785.8C519.1,785.8 517.3,805.9 517.3,805.9C517.4,806.0 520.4,775.8 521.9,760.2C523.4,743.8 524.8,725.0 526.5,709.8C527.9,697.3 528.4,684.2 531.0,675.5C532.8,669.7 534.9,663.8 537.9,661.8C539.9,660.5 542.8,660.3 544.8,661.3C547.2,662.6 547.6,668.8 550.5,670.9C553.6,673.3 558.2,673.2 563.1,674.4C569.5,675.9 578.3,677.2 585.9,678.9C593.6,680.7 601.2,682.8 608.8,684.7C616.5,686.6 624.1,688.1 631.7,690.4C639.4,692.7 647.1,695.2 654.6,698.4C662.3,701.7 670.3,706.2 677.5,709.8C683.9,713.1 690.0,716.2 695.8,719.0C701.0,721.5 710.7,725.9 710.7,725.9" fill="none" stroke="#000000" stroke-width="1.8" stroke-linejoin="round" stroke-dasharray="13 5 1.6 5"/>
<path d="M135.0,731.8C135.0,731.8 144.6,729.0 150.0,728.0C156.2,726.9 162.6,725.8 170.0,725.5C179.0,725.1 188.7,726.1 200.0,726.8C214.6,727.6 233.3,729.5 250.0,730.5C266.7,731.5 283.8,732.5 300.0,733.0C315.4,733.5 334.1,735.4 345.0,733.5C351.5,732.4 354.6,729.4 360.0,728.0C366.1,726.4 373.1,725.8 380.0,724.7C387.4,723.6 395.2,722.0 402.9,721.3C410.5,720.5 418.2,719.6 425.8,720.1C433.4,720.7 441.0,723.2 448.6,724.7C456.3,726.2 464.3,727.9 471.5,729.3C478.0,730.5 484.7,730.4 489.8,732.7C494.4,734.8 497.6,738.3 501.3,741.9C505.3,745.8 508.8,751.5 512.7,755.6C516.4,759.4 520.1,763.4 524.2,765.9C527.8,768.2 531.4,769.8 535.6,770.5C540.4,771.2 546.2,770.4 551.6,769.3C557.6,768.2 564.1,766.0 569.9,763.6C575.5,761.4 580.5,758.7 585.9,755.6C591.9,752.3 598.4,748.1 604.3,744.2C609.8,740.4 615.1,736.3 620.3,732.7C625.0,729.5 629.0,725.8 634.0,723.6C639.0,721.4 644.5,720.2 650.0,719.5C655.9,718.6 662.0,718.9 668.3,719.0C675.0,719.1 682.9,718.7 688.9,720.1C694.1,721.3 698.9,723.2 702.7,725.9C706.0,728.3 710.7,735.0 710.7,735.0" fill="none" stroke="#EB7229" stroke-width="2.0" stroke-linejoin="round"/>
<path d="M135.0,730.8C135.0,730.8 144.6,728.0 150.0,727.0C156.2,725.9 162.6,724.8 170.0,724.5C179.0,724.1 188.7,725.1 200.0,725.8C214.6,726.6 233.3,728.5 250.0,729.5C266.7,730.5 283.8,731.5 300.0,732.0C315.4,732.5 334.1,734.4 345.0,732.5C351.5,731.4 354.6,728.4 360.0,727.0C366.1,725.4 373.1,724.7 380.0,723.6C387.4,722.4 395.2,721.1 402.9,720.1C410.5,719.2 418.1,718.0 425.8,717.8C433.4,717.7 442.4,719.8 448.6,719.0C453.2,718.4 455.9,715.0 460.0,715.4C465.1,715.7 471.1,721.2 476.7,723.7C482.2,726.2 489.1,727.3 493.4,730.4C497.1,733.1 499.8,736.4 501.8,740.4C504.2,745.1 504.7,751.9 506.0,757.2C507.2,761.9 508.4,770.6 509.3,770.5C510.3,770.5 510.5,761.2 511.8,757.2C513.1,753.5 515.0,750.1 516.9,747.1C518.6,744.3 520.6,739.9 522.7,739.6C524.5,739.3 526.9,741.8 528.6,743.8C530.7,746.2 532.0,750.2 533.6,753.8C535.4,757.9 536.8,763.1 538.6,767.2C540.2,770.8 541.6,774.2 543.6,777.2C545.5,780.1 547.7,783.1 550.3,784.7C552.7,786.3 555.8,787.3 558.7,787.3C561.9,787.2 565.3,785.2 568.7,783.9C572.5,782.5 576.4,780.8 580.4,778.9C584.7,776.9 589.3,774.4 593.8,772.2C598.2,770.0 602.7,767.8 607.2,765.5C611.5,763.3 616.0,761.6 620.0,758.8C624.2,756.0 627.0,752.2 631.7,748.7C637.9,744.3 646.8,738.9 654.6,735.0C662.1,731.2 670.1,727.3 677.5,725.4C683.8,723.8 690.0,723.4 695.8,723.6C701.0,723.7 710.7,725.9 710.7,725.9" fill="none" stroke="#EB7229" stroke-width="1.8" stroke-linejoin="round" stroke-dasharray="4.6 2.2"/>
<path d="M135.0,731.2C135.0,731.2 144.6,728.5 150.0,727.5C156.2,726.4 162.6,725.3 170.0,725.0C179.0,724.6 188.7,725.6 200.0,726.2C214.6,727.1 233.3,729.0 250.0,730.0C266.7,731.0 283.8,732.0 300.0,732.5C315.4,733.0 333.0,733.1 345.0,733.0C353.0,732.9 358.9,733.5 365.0,732.5C370.4,731.7 374.5,729.6 380.0,728.1C386.8,726.3 395.2,724.0 402.9,722.4C410.5,720.9 418.1,719.8 425.8,719.0C433.4,718.2 442.3,718.2 448.6,717.8C453.1,717.6 456.3,716.9 460.0,717.0C463.5,717.2 466.6,718.2 470.0,718.7C473.8,719.3 478.1,721.4 481.7,720.4C485.9,719.1 490.0,714.4 493.4,710.3C497.3,705.7 500.9,699.0 503.5,693.6C505.7,689.0 506.6,680.4 508.5,680.2C510.0,680.1 512.2,685.9 513.5,688.6C514.6,690.9 515.4,695.4 516.0,695.3C517.3,695.1 517.0,677.9 517.7,668.5C518.4,658.0 519.2,642.5 520.2,635.1C520.7,631.3 521.3,626.7 521.9,626.7C522.7,626.7 523.6,637.5 524.4,643.4C525.3,650.2 526.1,657.4 526.9,665.2C527.8,674.0 528.4,684.0 529.4,693.6C530.4,703.5 531.3,714.7 532.7,723.7C533.9,731.1 535.6,737.4 536.9,743.8C538.1,749.6 537.7,758.9 540.3,760.5C541.9,761.5 545.0,759.5 547.0,758.8C548.5,758.3 549.7,757.2 551.1,757.2C552.5,757.2 553.9,757.7 555.3,758.8C557.9,760.9 560.8,767.6 563.7,770.5C565.9,772.8 568.1,773.9 570.4,775.6C572.6,777.2 574.4,779.7 577.1,780.6C579.9,781.5 583.5,781.2 587.1,780.6C591.7,779.8 596.9,777.4 602.1,775.6C607.9,773.5 614.9,771.7 620.0,768.9C624.5,766.4 627.0,763.1 631.7,760.2C637.9,756.4 647.0,752.6 654.6,748.7C662.2,744.9 670.8,740.6 677.5,737.3C682.6,734.7 686.1,732.3 691.2,730.4C697.0,728.3 710.7,725.9 710.7,725.9" fill="none" stroke="#EB7229" stroke-width="1.8" stroke-linejoin="round" stroke-dasharray="13 5 1.6 5"/>
<path d="M135.0,739.0C135.0,739.0 148.3,744.5 155.0,747.0C161.6,749.5 167.9,752.1 175.0,754.0C182.8,756.1 191.6,758.4 200.0,759.0C208.3,759.6 215.2,758.5 225.0,757.8C238.8,756.7 258.3,754.3 275.0,752.8C291.7,751.2 312.1,749.3 325.0,748.5C333.2,748.0 338.6,747.2 345.0,747.8C351.1,748.3 356.7,749.8 362.5,751.5C368.4,753.2 373.9,755.2 380.0,757.9C387.2,761.0 395.2,766.1 402.9,769.3C410.4,772.5 418.1,775.2 425.8,777.3C433.3,779.4 441.0,781.2 448.6,781.9C456.2,782.7 465.2,782.2 471.5,781.9C476.0,781.7 479.3,781.1 483.0,780.8C486.4,780.5 490.1,778.5 492.9,780.0C496.7,782.0 499.3,789.6 501.6,795.5C504.4,802.3 505.9,810.5 507.5,818.7C509.2,827.8 510.0,839.6 511.3,847.8C512.3,853.8 512.8,859.3 514.2,863.3C515.3,866.1 516.6,870.0 518.1,870.1C519.8,870.1 522.3,864.8 523.9,861.4C526.0,857.0 527.3,851.8 528.8,845.9C530.7,838.1 532.2,827.8 533.6,818.7C535.1,809.7 537.6,791.6 537.5,791.6C537.4,791.6 536.1,800.0 536.1,800.0C536.0,799.9 538.8,779.8 540.3,768.9C541.9,756.7 543.2,741.8 545.3,730.4C547.0,721.1 547.9,711.5 551.1,705.3C553.5,700.8 557.5,699.2 560.3,695.3C563.5,690.9 565.9,685.3 568.7,680.2C571.5,675.2 573.7,669.2 577.1,665.2C580.0,661.7 583.2,659.1 587.1,656.8C591.4,654.3 596.8,652.1 602.1,651.0C607.8,649.8 614.8,649.0 620.0,650.1C624.5,651.1 627.8,653.6 631.7,656.1C636.2,658.9 641.0,662.5 645.4,666.4C650.2,670.5 654.4,675.3 659.2,680.1C664.3,685.2 670.0,691.3 675.2,696.1C679.8,700.4 684.5,704.0 688.9,707.6C692.9,710.8 696.6,713.9 700.4,716.7C703.8,719.2 710.7,723.6 710.7,723.6" fill="none" stroke="#823410" stroke-width="1.8" stroke-linejoin="round" stroke-dasharray="4.6 2.2"/>
<path d="M135.0,737.0C135.0,737.0 148.3,740.3 155.0,742.0C161.7,743.8 167.9,745.9 175.0,747.5C182.8,749.3 191.6,751.1 200.0,752.0C208.3,752.9 215.2,753.2 225.0,753.0C238.8,752.7 258.3,750.2 275.0,749.0C291.7,747.8 312.1,746.5 325.0,746.0C333.2,745.7 338.6,745.1 345.0,745.5C351.0,745.9 356.8,746.4 362.5,748.0C368.4,749.7 373.8,753.0 380.0,755.6C387.1,758.6 395.3,761.4 402.9,764.8C410.6,768.2 418.0,773.1 425.8,776.2C433.3,779.2 442.0,781.0 448.6,783.1C453.8,784.7 462.4,787.1 462.4,787.6C462.4,787.8 460.0,787.6 460.0,787.7C460.0,788.1 473.0,788.6 477.4,790.7C480.8,792.3 482.9,794.4 485.2,797.4C488.2,801.3 490.5,807.6 492.9,812.9C495.4,818.5 497.9,824.7 499.7,830.4C501.4,835.6 502.5,840.5 503.6,845.9C504.8,851.5 504.9,859.2 506.5,863.3C507.5,865.9 508.9,867.2 510.4,869.1C511.8,871.1 514.1,872.1 515.2,874.9C517.1,879.6 516.6,888.1 517.1,896.2C517.9,907.2 518.4,922.1 519.1,935.0C519.7,947.9 520.2,963.2 521.0,973.7C521.6,981.0 521.7,992.0 523.0,992.1C523.9,992.2 525.5,986.0 526.8,981.5C529.0,973.9 531.2,960.8 533.6,950.5C536.0,940.1 538.8,929.8 541.4,919.5C543.9,909.1 546.6,899.1 549.1,888.5C551.8,877.2 554.3,865.2 556.9,853.6C559.4,842.0 562.0,829.6 564.6,818.7C566.9,809.1 569.2,800.0 571.4,791.6C573.3,784.4 574.4,778.2 576.8,771.6C579.3,764.7 583.0,758.1 585.9,751.0C589.1,743.6 592.0,735.5 595.1,728.1C598.1,721.1 601.4,714.0 604.3,707.6C606.7,701.9 608.7,696.3 611.1,691.5C613.3,687.3 615.5,684.0 618.0,680.1C620.8,675.7 623.5,670.1 627.1,666.4C630.5,663.0 634.4,660.1 638.6,658.4C642.8,656.6 647.6,656.0 652.3,656.1C657.5,656.2 663.3,657.7 668.3,659.5C673.2,661.2 677.6,663.5 682.1,666.4C686.8,669.5 691.4,674.2 695.8,677.8C699.8,681.0 707.2,687.0 707.2,687.0" fill="none" stroke="#823410" stroke-width="1.8" stroke-linejoin="round" stroke-dasharray="13 5 1.6 5"/>
</g></g>
<text x="105.7" y="614.7" text-anchor="end" font-size="32.4">100</text>
<text x="105.7" y="678.8" text-anchor="end" font-size="32.4">50</text>
<text x="105.7" y="742.8" text-anchor="end" font-size="32.4">0</text>
<text x="105.7" y="806.9" text-anchor="end" font-size="32.4">-50</text>
<text x="105.7" y="870.9" text-anchor="end" font-size="32.4">-100</text>
<text x="105.7" y="935.0" text-anchor="end" font-size="32.4">-150</text>
<text x="105.7" y="999.0" text-anchor="end" font-size="32.4">-200</text>
<text x="105.7" y="1063.1" text-anchor="end" font-size="32.4">-250</text>
<text x="133.7" y="1100.6" text-anchor="middle" font-size="32.4">0</text>
<text x="200.8" y="1100.6" text-anchor="middle" font-size="32.4">50</text>
<text x="267.8" y="1100.6" text-anchor="middle" font-size="32.4">100</text>
<text x="334.8" y="1100.6" text-anchor="middle" font-size="32.4">150</text>
<text x="401.9" y="1100.6" text-anchor="middle" font-size="32.4">200</text>
<text x="468.9" y="1100.6" text-anchor="middle" font-size="32.4">250</text>
<text x="536.0" y="1100.6" text-anchor="middle" font-size="32.4">300</text>
<text x="603.0" y="1100.6" text-anchor="middle" font-size="32.4">350</text>
<text x="670.1" y="1100.6" text-anchor="middle" font-size="32.4">400</text>
<text x="398.9" y="1130.6" text-anchor="middle" font-size="32.4">Time/s</text>
<text transform="translate(31.7,1038.6) rotate(-90)" font-size="31.7"><tspan x="-0.5">Temperature</tspan><tspan x="171.5">gradient</tspan><tspan x="286">/</tspan><tspan x="295.2" dy="2.3">（</tspan><tspan x="325" dy="-2.3">K/cm</tspan><tspan x="393.5" dy="2.3">）</tspan></text>
<text x="441.8" y="644.7" text-anchor="end" font-size="32.4">10g/L</text>
<line x1="164.7" y1="867.2" x2="217.7" y2="867.2" stroke="#000000" stroke-width="2"/>
<text x="223.4" y="877.8" font-size="32.4">B1-A1</text>
<line x1="323.6" y1="867.2" x2="376.6" y2="867.2" stroke="#000000" stroke-width="2" stroke-dasharray="6 1.75"/>
<text x="380.3" y="877.8" font-size="32.4">B2-A2</text>
<line x1="164.7" y1="909.6" x2="217.7" y2="909.6" stroke="#000000" stroke-width="2" stroke-dasharray="15.2 6 2 6.2"/>
<text x="223.4" y="920.2" font-size="32.4">B3-A3</text>
<line x1="323.6" y1="909.6" x2="376.6" y2="909.6" stroke="#EB7229" stroke-width="2"/>
<text x="380.3" y="920.2" font-size="32.4">C1-B1</text>
<line x1="164.7" y1="952.0" x2="217.7" y2="952.0" stroke="#EB7229" stroke-width="2" stroke-dasharray="6 1.75"/>
<text x="223.4" y="962.6" font-size="32.4">C2-B2</text>
<line x1="323.6" y1="952.0" x2="376.6" y2="952.0" stroke="#EB7229" stroke-width="2" stroke-dasharray="15.2 6 2 6.2"/>
<text x="380.3" y="962.6" font-size="32.4">C3-B3</text>
<line x1="164.7" y1="994.4" x2="217.7" y2="994.4" stroke="#823410" stroke-width="2" stroke-dasharray="6 1.75"/>
<text x="223.4" y="1005.0" font-size="32.4">D2-C2</text>
<line x1="323.6" y1="994.4" x2="376.6" y2="994.4" stroke="#823410" stroke-width="2" stroke-dasharray="15.2 6 2 6.2"/>
<text x="380.3" y="1005.0" font-size="32.4">D3-C3</text>
<line x1="910.8" y1="693.86" x2="1494" y2="693.86" stroke="#D9D9D9" stroke-width="1.7"/>
<line x1="910.8" y1="782.62" x2="1494" y2="782.62" stroke="#D9D9D9" stroke-width="1.7"/>
<line x1="910.8" y1="871.38" x2="1494" y2="871.38" stroke="#D9D9D9" stroke-width="1.7"/>
<line x1="910.8" y1="960.14" x2="1494" y2="960.14" stroke="#D9D9D9" stroke-width="1.7"/>
<path d="M910.8,605.1H1494V1048.9" fill="none" stroke="#000" stroke-width="2" stroke-linejoin="round"/>
<path d="M910.8,604.1V1048.9H1495" fill="none" stroke="#000" stroke-width="4" stroke-linejoin="miter"/>
<line x1="910.8" y1="605.10" x2="920.5999999999999" y2="605.10" stroke="#000" stroke-width="3.6"/>
<line x1="910.8" y1="693.86" x2="920.5999999999999" y2="693.86" stroke="#000" stroke-width="3.6"/>
<line x1="910.8" y1="782.62" x2="920.5999999999999" y2="782.62" stroke="#000" stroke-width="3.6"/>
<line x1="910.8" y1="871.38" x2="920.5999999999999" y2="871.38" stroke="#000" stroke-width="3.6"/>
<line x1="910.8" y1="960.14" x2="920.5999999999999" y2="960.14" stroke="#000" stroke-width="3.6"/>
<line x1="978.96" y1="1048.9" x2="978.96" y2="1039.1000000000001" stroke="#000" stroke-width="3.6"/>
<line x1="1047.12" y1="1048.9" x2="1047.12" y2="1039.1000000000001" stroke="#000" stroke-width="3.6"/>
<line x1="1115.28" y1="1048.9" x2="1115.28" y2="1039.1000000000001" stroke="#000" stroke-width="3.6"/>
<line x1="1183.44" y1="1048.9" x2="1183.44" y2="1039.1000000000001" stroke="#000" stroke-width="3.6"/>
<line x1="1251.60" y1="1048.9" x2="1251.60" y2="1039.1000000000001" stroke="#000" stroke-width="3.6"/>
<line x1="1319.76" y1="1048.9" x2="1319.76" y2="1039.1000000000001" stroke="#000" stroke-width="3.6"/>
<line x1="1387.92" y1="1048.9" x2="1387.92" y2="1039.1000000000001" stroke="#000" stroke-width="3.6"/>
<line x1="1456.08" y1="1048.9" x2="1456.08" y2="1039.1000000000001" stroke="#000" stroke-width="3.6"/>
<g clip-path="url(#dc)"><g filter="url(#rough)">
<path d="M911.0,782.0C911.0,782.0 923.2,784.1 930.0,785.0C937.8,786.1 946.7,787.3 955.0,788.0C963.3,788.7 970.2,789.0 980.0,789.0C993.8,789.0 1013.3,787.4 1030.0,786.8C1046.7,786.1 1064.3,785.3 1080.0,785.0C1094.1,784.8 1109.0,784.9 1120.0,785.0C1127.8,785.1 1133.1,784.4 1140.0,785.3C1147.7,786.3 1156.1,789.7 1164.2,791.3C1172.2,792.9 1180.3,794.5 1188.4,794.9C1196.5,795.3 1204.6,794.5 1212.6,793.7C1220.7,792.9 1228.8,791.3 1236.8,790.1C1244.9,788.9 1253.0,787.7 1261.0,786.5C1269.1,785.3 1277.7,784.6 1285.3,782.8C1292.1,781.3 1298.8,779.4 1304.6,776.8C1310.0,774.4 1315.1,771.8 1319.2,768.3C1323.1,764.9 1325.0,759.3 1328.8,756.2C1332.4,753.3 1336.5,751.7 1340.9,750.2C1346.0,748.4 1352.0,747.3 1357.9,746.5C1364.1,745.7 1371.3,745.0 1377.3,745.3C1382.5,745.6 1387.0,746.5 1391.8,747.7C1396.7,748.9 1400.8,750.8 1406.3,752.6C1413.3,754.8 1422.4,757.6 1430.5,759.8C1438.6,762.0 1446.6,764.1 1454.7,765.9C1462.8,767.7 1471.9,769.6 1478.9,770.7C1484.4,771.6 1493.5,772.7 1493.5,772.7" fill="none" stroke="#000000" stroke-width="2.0" stroke-linejoin="round"/>
<path d="M911.0,783.2C911.0,783.2 923.2,785.3 930.0,786.2C937.8,787.3 946.7,788.5 955.0,789.2C963.3,789.9 970.2,790.2 980.0,790.2C993.8,790.2 1013.3,788.6 1030.0,788.0C1046.7,787.3 1064.3,786.5 1080.0,786.2C1094.1,786.0 1109.0,786.3 1120.0,786.2C1127.8,786.2 1133.0,785.4 1140.0,786.0C1147.7,786.7 1156.1,789.2 1164.2,790.6C1172.3,792.0 1180.3,793.3 1188.4,794.2C1196.5,795.1 1204.6,795.8 1212.6,796.2C1220.7,796.5 1228.8,796.6 1236.8,796.2C1244.9,795.7 1253.2,794.1 1261.0,793.7C1268.5,793.4 1277.7,791.9 1282.8,793.7C1286.2,794.9 1288.2,796.8 1290.1,799.8C1292.8,804.2 1293.5,812.8 1294.9,819.2C1296.3,825.3 1297.5,837.3 1298.6,837.3C1299.5,837.3 1300.0,829.1 1301.0,824.0C1302.3,817.1 1303.8,807.1 1305.8,799.8C1307.6,793.6 1309.2,788.1 1311.9,782.8C1314.5,777.6 1317.9,772.8 1321.6,768.3C1325.2,763.9 1329.4,759.5 1333.7,756.2C1337.5,753.2 1341.6,750.7 1345.8,748.9C1349.7,747.3 1353.1,746.5 1357.9,745.8C1364.5,744.8 1374.0,744.5 1382.1,744.6C1390.2,744.7 1398.3,745.6 1406.3,746.5C1414.4,747.5 1422.5,748.7 1430.5,750.2C1438.6,751.6 1446.7,753.4 1454.7,755.0C1462.8,756.6 1471.9,758.5 1478.9,759.8C1484.4,760.8 1493.5,762.3 1493.5,762.3" fill="none" stroke="#000000" stroke-width="1.8" stroke-linejoin="round" stroke-dasharray="4.6 2.2"/>
<path d="M911.0,784.4C911.0,784.4 923.2,786.5 930.0,787.4C937.8,788.5 946.7,789.7 955.0,790.4C963.3,791.1 970.2,791.4 980.0,791.4C993.8,791.4 1013.3,789.8 1030.0,789.1C1046.7,788.5 1064.3,787.7 1080.0,787.4C1094.1,787.2 1109.0,787.6 1120.0,787.4C1127.8,787.3 1133.1,786.0 1140.0,786.7C1147.7,787.5 1156.1,790.9 1164.2,792.5C1172.2,794.1 1180.3,795.3 1188.4,796.2C1196.5,797.0 1204.6,797.0 1212.6,797.4C1220.7,797.8 1229.2,798.1 1236.8,798.6C1243.7,799.0 1250.5,799.0 1256.2,799.8C1260.7,800.4 1265.1,800.2 1268.3,802.2C1271.5,804.2 1273.5,808.0 1275.6,811.9C1278.1,816.6 1280.2,822.6 1281.6,828.8C1283.3,836.1 1283.4,844.8 1284.0,853.0C1284.7,861.7 1283.3,872.9 1285.3,879.7C1286.6,884.3 1289.6,890.8 1291.3,890.6C1293.4,890.3 1294.2,878.9 1296.2,872.4C1298.5,864.9 1301.9,856.7 1304.6,848.2C1307.6,839.0 1310.6,828.4 1313.1,819.2C1315.4,810.7 1317.3,803.0 1319.2,794.9C1321.0,786.9 1322.3,778.3 1324.0,770.7C1325.5,763.9 1326.6,755.7 1328.8,751.4C1330.2,748.7 1331.4,746.6 1333.7,745.8C1336.6,744.7 1341.9,746.2 1345.8,747.7C1350.0,749.4 1353.5,754.2 1357.9,756.2C1362.3,758.2 1367.0,759.0 1372.4,759.8C1378.9,760.8 1386.7,760.8 1394.2,761.0C1402.1,761.3 1410.3,761.1 1418.4,761.0C1426.5,761.0 1434.5,760.6 1442.6,760.6C1450.7,760.6 1458.6,760.8 1466.8,761.0C1475.5,761.3 1493.5,762.3 1493.5,762.3" fill="none" stroke="#000000" stroke-width="1.8" stroke-linejoin="round" stroke-dasharray="13 5 1.6 5"/>
<path d="M911.0,781.5C911.0,781.5 930.5,780.1 940.0,779.5C949.3,778.9 957.6,778.1 967.5,778.0C979.0,777.8 991.6,778.5 1005.0,779.0C1020.5,779.6 1038.3,781.0 1055.0,781.8C1071.7,782.5 1092.1,783.4 1105.0,783.5C1113.2,783.5 1118.8,783.1 1125.0,783.0C1130.4,782.9 1134.4,783.4 1140.0,782.8C1147.1,782.1 1156.1,779.2 1164.2,778.0C1172.3,776.8 1180.3,776.0 1188.4,775.6C1196.5,775.2 1204.6,775.2 1212.6,775.6C1220.7,776.0 1228.8,777.2 1236.8,778.0C1244.9,778.8 1253.0,779.2 1261.0,780.4C1269.1,781.6 1277.7,783.3 1285.3,785.3C1292.1,787.0 1298.8,788.5 1304.6,791.3C1310.0,793.9 1315.3,797.6 1319.2,801.0C1322.2,803.7 1323.7,807.9 1326.4,809.5C1328.6,810.7 1331.0,810.8 1333.7,810.7C1337.2,810.5 1341.0,807.8 1345.8,807.0C1352.4,806.0 1362.0,807.6 1370.0,806.6C1378.1,805.6 1386.2,803.1 1394.2,801.0C1402.3,798.8 1410.3,795.8 1418.4,793.7C1426.4,791.7 1434.5,790.1 1442.6,788.9C1450.7,787.7 1458.6,787.1 1466.8,786.5C1475.5,785.8 1493.5,784.8 1493.5,784.8" fill="none" stroke="#EB7229" stroke-width="2.0" stroke-linejoin="round"/>
<path d="M911.0,780.7C911.0,780.7 930.5,779.3 940.0,778.7C949.3,778.1 957.6,777.3 967.5,777.2C979.0,777.0 991.6,777.7 1005.0,778.2C1020.5,778.8 1038.3,780.2 1055.0,781.0C1071.7,781.7 1092.1,782.6 1105.0,782.7C1113.2,782.7 1118.8,782.2 1125.0,782.2C1130.4,782.2 1134.5,783.0 1140.0,782.4C1147.2,781.5 1156.1,777.7 1164.2,776.1C1172.2,774.5 1180.3,773.4 1188.4,772.7C1196.5,772.0 1204.6,771.9 1212.6,771.9C1220.7,771.9 1228.8,772.1 1236.8,772.7C1244.9,773.2 1253.0,773.8 1261.0,775.1C1269.2,776.4 1278.4,777.5 1285.3,780.4C1291.0,782.9 1295.2,788.4 1299.8,790.1C1303.2,791.4 1305.9,790.6 1309.5,791.3C1313.8,792.1 1319.8,793.0 1324.0,794.9C1327.8,796.7 1330.6,799.2 1333.7,802.2C1337.1,805.6 1339.9,811.0 1343.4,814.3C1346.4,817.3 1349.4,820.2 1353.0,821.6C1356.7,823.0 1360.8,823.0 1365.1,822.8C1370.3,822.5 1376.0,820.6 1382.1,819.2C1389.5,817.4 1398.3,815.5 1406.3,813.1C1414.4,810.7 1422.4,807.4 1430.5,804.6C1438.6,801.8 1446.6,798.6 1454.7,796.2C1462.7,793.8 1471.9,791.7 1478.9,790.1C1484.4,788.9 1493.5,787.2 1493.5,787.2" fill="none" stroke="#EB7229" stroke-width="1.8" stroke-linejoin="round" stroke-dasharray="4.6 2.2"/>
<path d="M911.0,781.1C911.0,781.1 930.5,779.7 940.0,779.1C949.3,778.5 957.6,777.7 967.5,777.6C979.0,777.4 991.6,778.1 1005.0,778.6C1020.5,779.2 1038.3,780.6 1055.0,781.4C1071.7,782.1 1092.1,783.0 1105.0,783.1C1113.2,783.1 1118.8,782.6 1125.0,782.6C1130.4,782.6 1134.5,783.5 1140.0,782.8C1147.2,782.0 1156.1,778.3 1164.2,776.8C1172.2,775.3 1180.3,774.3 1188.4,773.6C1196.5,773.0 1204.6,772.7 1212.6,772.7C1220.7,772.6 1228.8,772.9 1236.8,773.2C1244.9,773.4 1253.0,774.0 1261.0,774.4C1269.1,774.8 1280.1,777.3 1285.3,775.6C1288.2,774.6 1289.8,773.2 1291.3,770.7C1293.6,767.0 1292.9,756.5 1294.9,753.8C1295.9,752.4 1297.1,752.3 1298.6,751.8C1300.5,751.3 1304.2,752.9 1305.8,751.4C1308.2,749.2 1307.5,742.0 1308.3,736.8C1309.1,730.9 1309.6,723.4 1310.7,717.5C1311.7,712.2 1312.8,703.1 1314.3,702.9C1315.4,702.8 1317.0,707.2 1317.9,710.2C1319.3,714.6 1319.6,721.5 1320.4,727.2C1321.2,732.8 1322.0,738.5 1322.8,744.1C1323.6,749.7 1324.2,755.2 1325.2,761.0C1326.2,767.3 1327.3,774.5 1328.8,780.4C1330.2,785.7 1331.0,792.3 1333.7,794.9C1335.6,796.8 1338.3,796.8 1340.9,797.4C1343.9,798.0 1347.8,797.3 1350.6,798.6C1353.4,799.8 1355.3,803.2 1357.9,804.6C1360.2,805.9 1362.2,806.6 1365.1,807.0C1369.6,807.8 1376.0,807.9 1382.1,807.0C1389.5,806.0 1398.2,802.2 1406.3,799.8C1414.4,797.4 1422.4,794.5 1430.5,792.5C1438.5,790.5 1445.7,788.9 1454.7,787.7C1466.1,786.2 1493.5,785.3 1493.5,785.3" fill="none" stroke="#EB7229" stroke-width="1.8" stroke-linejoin="round" stroke-dasharray="13 5 1.6 5"/>
<path d="M911.0,782.0C911.0,782.0 923.2,784.7 930.0,786.0C937.8,787.5 946.7,789.2 955.0,790.5C963.3,791.8 971.7,793.2 980.0,794.0C988.3,794.8 995.2,795.5 1005.0,795.5C1018.8,795.6 1038.3,793.8 1055.0,793.0C1071.7,792.2 1092.1,791.0 1105.0,790.5C1113.2,790.2 1118.8,790.3 1125.0,790.0C1130.4,789.7 1134.4,788.4 1140.0,788.9C1147.2,789.5 1156.1,793.3 1164.2,794.9C1172.2,796.5 1180.3,797.8 1188.4,798.6C1196.5,799.4 1204.6,799.6 1212.6,799.8C1220.7,800.0 1228.8,800.0 1236.8,799.8C1244.9,799.6 1253.0,798.9 1261.0,798.6C1269.1,798.2 1277.6,798.1 1285.3,797.8C1292.1,797.7 1298.7,798.2 1304.6,797.4C1309.9,796.7 1314.3,795.1 1319.2,793.7C1324.0,792.3 1329.1,790.8 1333.7,788.9C1338.0,787.1 1341.9,785.3 1345.8,782.8C1350.0,780.2 1353.9,776.4 1357.9,773.2C1361.9,769.9 1365.8,766.1 1370.0,763.5C1373.9,761.0 1377.8,759.0 1382.1,757.4C1386.6,755.7 1391.7,754.5 1396.6,753.8C1401.4,753.1 1406.0,752.9 1411.1,753.1C1417.1,753.2 1423.7,754.1 1430.5,755.0C1438.1,755.9 1446.7,757.4 1454.7,758.6C1462.8,759.8 1471.9,761.1 1478.9,762.3C1484.4,763.1 1493.5,764.7 1493.5,764.7" fill="none" stroke="#823410" stroke-width="2.0" stroke-linejoin="round"/>
<path d="M911.0,786.5C911.0,786.5 923.2,789.2 930.0,790.5C937.8,792.0 946.7,793.7 955.0,795.0C963.3,796.3 971.7,797.7 980.0,798.5C988.3,799.3 995.2,800.0 1005.0,800.0C1018.8,800.1 1038.3,798.3 1055.0,797.5C1071.7,796.7 1092.1,795.5 1105.0,795.0C1113.2,794.7 1118.9,795.4 1125.0,794.5C1130.4,793.7 1134.4,790.4 1140.0,790.6C1147.1,790.8 1156.2,795.8 1164.2,798.6C1172.3,801.3 1180.3,805.0 1188.4,807.0C1196.4,809.0 1204.5,809.7 1212.6,810.7C1220.7,811.7 1228.8,812.9 1236.8,813.1C1244.9,813.3 1253.7,812.2 1261.0,811.9C1267.2,811.6 1272.9,810.9 1278.0,811.4C1282.4,811.9 1286.9,812.0 1290.1,814.3C1293.5,816.8 1295.4,821.7 1297.4,826.4C1299.7,832.0 1301.0,839.1 1302.2,845.8C1303.5,852.8 1303.1,861.5 1304.6,867.6C1305.8,872.3 1307.1,878.9 1309.5,879.7C1311.4,880.3 1314.6,877.4 1316.7,874.8C1319.8,871.1 1321.7,864.1 1324.0,857.9C1326.6,850.6 1329.2,841.8 1331.3,833.7C1333.3,825.7 1334.5,817.5 1336.1,809.5C1337.7,801.4 1339.2,792.9 1340.9,785.3C1342.5,778.4 1343.8,772.3 1345.8,765.9C1347.8,759.4 1350.2,752.7 1353.0,746.5C1355.8,740.6 1359.2,734.2 1362.7,729.6C1365.7,725.7 1368.6,722.5 1372.4,719.9C1376.5,717.1 1381.6,715.1 1386.9,713.8C1392.8,712.4 1399.5,712.4 1406.3,712.1C1413.9,711.9 1422.5,711.9 1430.5,712.6C1438.6,713.3 1446.7,715.0 1454.7,716.3C1462.8,717.5 1471.9,718.8 1478.9,719.9C1484.4,720.8 1493.5,722.3 1493.5,722.3" fill="none" stroke="#823410" stroke-width="1.8" stroke-linejoin="round" stroke-dasharray="4.6 2.2"/>
<path d="M911.0,785.0C911.0,785.0 923.2,787.7 930.0,789.0C937.8,790.5 946.7,792.2 955.0,793.5C963.3,794.8 971.7,796.2 980.0,797.0C988.3,797.8 995.2,798.5 1005.0,798.5C1018.8,798.6 1038.3,796.8 1055.0,796.0C1071.7,795.2 1092.1,794.0 1105.0,793.5C1113.2,793.2 1118.8,793.7 1125.0,793.0C1130.4,792.4 1134.5,789.7 1140.0,790.1C1147.2,790.6 1156.1,795.7 1164.2,798.6C1172.3,801.4 1180.3,804.8 1188.4,807.0C1196.4,809.2 1204.5,810.5 1212.6,811.9C1220.7,813.3 1229.2,814.5 1236.8,815.5C1243.6,816.5 1250.2,817.1 1256.2,817.9C1261.4,818.7 1266.4,819.2 1270.7,820.4C1274.3,821.3 1277.8,821.5 1280.4,824.0C1283.9,827.3 1285.5,834.4 1287.7,840.9C1290.5,849.2 1292.0,861.4 1294.9,870.0C1297.5,877.3 1301.7,882.4 1303.8,889.5C1306.0,897.2 1306.3,905.6 1307.5,914.5C1308.8,924.6 1310.2,936.9 1311.2,947.0C1312.2,955.9 1313.0,966.1 1313.8,972.0C1314.2,975.2 1314.4,979.5 1315.0,979.5C1315.6,979.5 1316.6,975.3 1317.5,972.0C1319.1,966.1 1320.2,955.6 1322.5,947.0C1325.1,937.4 1329.5,926.6 1332.5,917.0C1335.3,908.3 1337.5,900.3 1340.0,892.0C1342.5,883.7 1344.7,875.6 1347.5,867.0C1350.6,857.8 1354.5,847.9 1357.9,838.5C1361.2,829.5 1364.0,819.6 1367.6,811.9C1370.5,805.5 1374.4,800.7 1377.3,794.9C1380.0,789.4 1382.1,783.6 1384.5,778.0C1386.9,772.3 1388.9,765.3 1391.8,761.0C1393.9,757.9 1396.0,755.3 1399.0,753.8C1402.4,752.1 1406.6,752.5 1411.1,751.8C1416.8,751.0 1423.7,749.8 1430.5,748.9C1438.1,748.0 1446.6,747.0 1454.7,746.5C1462.8,746.0 1471.9,745.9 1478.9,745.8C1484.4,745.7 1493.5,745.8 1493.5,745.8" fill="none" stroke="#823410" stroke-width="1.8" stroke-linejoin="round" stroke-dasharray="13 5 1.6 5"/>
</g></g>
<text x="882.7" y="616.7" text-anchor="end" font-size="32.4">200</text>
<text x="882.7" y="705.5" text-anchor="end" font-size="32.4">100</text>
<text x="882.7" y="794.3" text-anchor="end" font-size="32.4">0</text>
<text x="882.7" y="883.1" text-anchor="end" font-size="32.4">-100</text>
<text x="882.7" y="971.9" text-anchor="end" font-size="32.4">-200</text>
<text x="882.7" y="1060.7" text-anchor="end" font-size="32.4">-300</text>
<text x="910.8" y="1098.6" text-anchor="middle" font-size="32.4">0</text>
<text x="979.0" y="1098.6" text-anchor="middle" font-size="32.4">50</text>
<text x="1047.1" y="1098.6" text-anchor="middle" font-size="32.4">100</text>
<text x="1115.3" y="1098.6" text-anchor="middle" font-size="32.4">150</text>
<text x="1183.4" y="1098.6" text-anchor="middle" font-size="32.4">200</text>
<text x="1251.6" y="1098.6" text-anchor="middle" font-size="32.4">250</text>
<text x="1319.8" y="1098.6" text-anchor="middle" font-size="32.4">300</text>
<text x="1387.9" y="1098.6" text-anchor="middle" font-size="32.4">350</text>
<text x="1456.1" y="1098.6" text-anchor="middle" font-size="32.4">400</text>
<text x="1181.7" y="1130.6" text-anchor="middle" font-size="32.4">Time/s</text>
<text transform="translate(814.1,1040.8) rotate(-90)" font-size="31.7"><tspan x="-0.5">Temperature</tspan><tspan x="171.5">gradient</tspan><tspan x="286">/</tspan><tspan x="295.2" dy="2.3">（</tspan><tspan x="325" dy="-2.3">K/cm</tspan><tspan x="393.5" dy="2.3">）</tspan></text>
<text x="1226.6" y="648.9" text-anchor="end" font-size="32.4">11g/L</text>
<line x1="922.8" y1="879.5" x2="975.1999999999999" y2="879.5" stroke="#000000" stroke-width="2"/>
<text x="980.5" y="889.6" font-size="32.4">B1-A1</text>
<line x1="1109.8" y1="879.5" x2="1162.2" y2="879.5" stroke="#000000" stroke-width="2" stroke-dasharray="6 1.75"/>
<text x="1167.1" y="889.6" font-size="32.4">B2-A2</text>
<line x1="922.8" y1="913.3" x2="972.8" y2="913.3" stroke="#000000" stroke-width="2" stroke-dasharray="15.2 6 2 6.2"/>
<text x="980.5" y="923.4" font-size="32.4">B3-A3</text>
<line x1="1109.8" y1="913.3" x2="1162.2" y2="913.3" stroke="#EB7229" stroke-width="2"/>
<text x="1167.1" y="923.4" font-size="32.4">C1-B1</text>
<line x1="922.8" y1="947.1" x2="975.1999999999999" y2="947.1" stroke="#EB7229" stroke-width="2" stroke-dasharray="6 1.75"/>
<text x="980.5" y="957.2" font-size="32.4">C2-B2</text>
<line x1="1109.8" y1="947.1" x2="1159.8" y2="947.1" stroke="#EB7229" stroke-width="2" stroke-dasharray="15.2 6 2 6.2"/>
<text x="1167.1" y="957.2" font-size="32.4">C3-B3</text>
<line x1="922.8" y1="980.9" x2="975.1999999999999" y2="980.9" stroke="#823410" stroke-width="2"/>
<text x="980.5" y="991.0" font-size="32.4">D1-C1</text>
<line x1="1109.8" y1="980.9" x2="1162.2" y2="980.9" stroke="#823410" stroke-width="2" stroke-dasharray="6 1.75"/>
<text x="1167.1" y="991.0" font-size="32.4">D2-C2</text>
<line x1="922.8" y1="1014.7" x2="972.8" y2="1014.7" stroke="#823410" stroke-width="2" stroke-dasharray="15.2 6 2 6.2"/>
<text x="980.5" y="1024.8" font-size="32.4">D3-C3</text>
</svg>
</body></html>
